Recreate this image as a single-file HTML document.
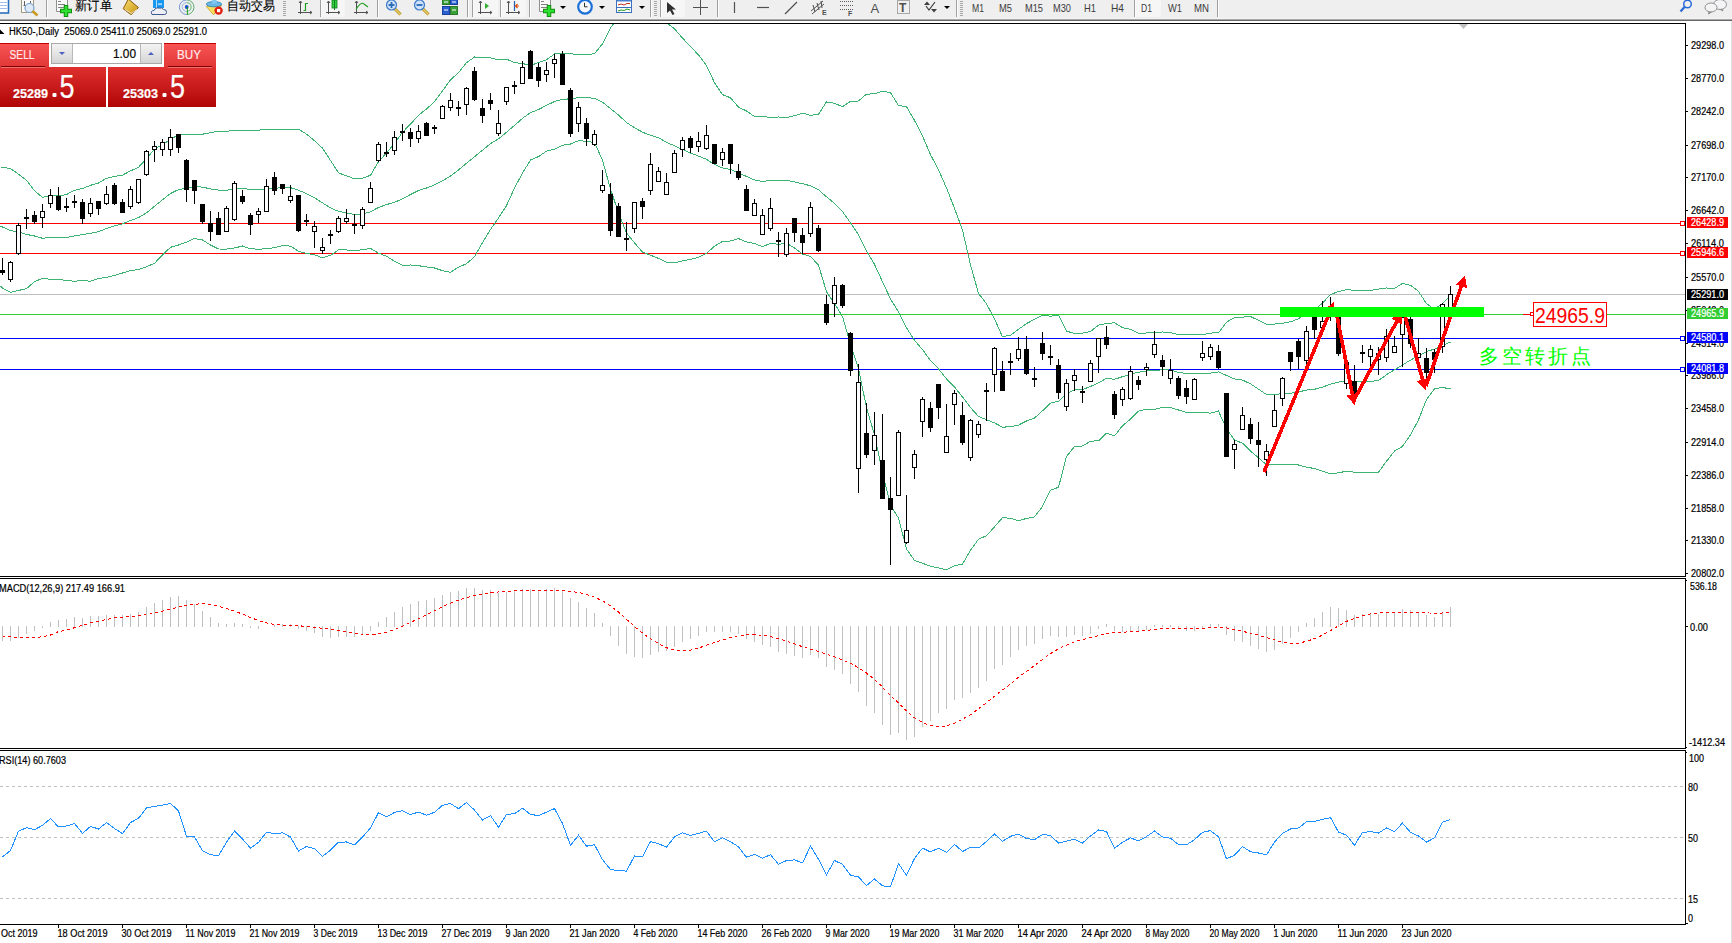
<!DOCTYPE html><html><head><meta charset="utf-8"><style>html,body{margin:0;padding:0;background:#fff;overflow:hidden}body{width:1732px;height:943px;position:relative;font-family:"Liberation Sans",sans-serif}</style></head><body>
<svg width="1732" height="943" viewBox="0 0 1732 943" style="position:absolute;left:0;top:0">
<rect x="0" y="0" width="1732" height="943" fill="#fff"/>
<rect x="1731" y="21" width="1" height="922" fill="#e0e0e0"/>
<g shape-rendering="crispEdges">
<rect x="0" y="23" width="1686" height="1" fill="#000"/>
<rect x="1685" y="23" width="1" height="554" fill="#000"/>
<rect x="0" y="576" width="1686" height="1" fill="#000"/>
<rect x="0" y="578" width="1686" height="1" fill="#000"/>
<rect x="1685" y="578" width="1" height="171" fill="#000"/>
<rect x="0" y="748" width="1686" height="1" fill="#000"/>
<rect x="0" y="750" width="1686" height="1" fill="#000"/>
<rect x="1685" y="750" width="1" height="175" fill="#000"/>
<rect x="0" y="924" width="1686" height="1" fill="#000"/>
</g>
<g shape-rendering="crispEdges">
<rect x="0" y="223" width="1685" height="1" fill="#ff0000"/>
<rect x="0" y="253" width="1685" height="1" fill="#ff0000"/>
<rect x="0" y="294" width="1685" height="1" fill="#c0c0c0"/>
<rect x="0" y="314" width="1685" height="1" fill="#32cd32"/>
<rect x="0" y="338" width="1685" height="1" fill="#0000ff"/>
<rect x="0" y="369" width="1685" height="1" fill="#0000ff"/>
<rect x="1680.5" y="221.5" width="4" height="4" fill="#fff" stroke="#ff0000" stroke-width="1"/>
<rect x="1680.5" y="251.5" width="4" height="4" fill="#fff" stroke="#ff0000" stroke-width="1"/>
<rect x="1680.5" y="336.5" width="4" height="4" fill="#fff" stroke="#0000ff" stroke-width="1"/>
<rect x="1680.5" y="367.5" width="4" height="4" fill="#fff" stroke="#0000ff" stroke-width="1"/>
</g>
<defs><clipPath id="cm"><rect x="0" y="24" width="1685" height="552"/></clipPath><clipPath id="cd"><rect x="0" y="579" width="1685" height="169"/></clipPath><clipPath id="cr"><rect x="0" y="751" width="1685" height="173"/></clipPath></defs>
<g clip-path="url(#cm)">
<polyline points="0.5,167.5 2.5,167.5 10.5,168.5 18.5,174.2 26.5,180.2 34.5,190.8 42.5,197.3 50.5,195.9 58.5,195.9 66.5,194.5 74.5,190.3 82.5,188.5 90.5,185.3 98.5,183.0 106.5,178.3 114.5,176.5 122.5,175.1 130.5,170.9 138.5,167.3 146.5,158.5 154.5,149.2 162.5,144.5 170.5,139.7 178.5,134.2 186.5,134.2 194.5,134.8 202.5,134.2 210.5,132.7 218.5,131.2 226.5,131.2 234.5,130.5 242.5,130.8 250.5,130.1 258.5,130.1 266.5,129.7 274.5,129.3 282.5,129.1 290.5,129.3 298.5,129.2 306.5,134.1 314.5,140.7 322.5,148.1 330.5,160.4 338.5,172.9 346.5,175.8 354.5,178.8 362.5,178.2 370.5,175.3 378.5,161.7 386.5,152.9 394.5,143.4 402.5,132.3 410.5,124.1 418.5,115.3 426.5,109.0 434.5,101.7 442.5,90.9 450.5,79.8 458.5,72.6 466.5,62.7 474.5,57.0 482.5,57.8 490.5,57.8 498.5,59.8 506.5,59.1 514.5,62.7 522.5,63.5 530.5,65.5 538.5,62.5 546.5,59.7 554.5,54.0 562.5,53.1 570.5,53.7 578.5,54.7 586.5,54.4 594.5,53.8 602.5,43.8 610.5,28.0 618.5,17.2 626.5,12.0 634.5,12.5 642.5,12.3 650.5,15.4 658.5,17.0 666.5,22.6 674.5,28.8 682.5,38.1 690.5,46.6 698.5,54.9 706.5,65.5 714.5,82.7 722.5,94.6 730.5,97.8 738.5,107.2 746.5,111.0 754.5,116.5 762.5,116.2 770.5,117.6 778.5,117.0 786.5,117.6 794.5,115.7 802.5,113.2 810.5,115.3 818.5,114.3 826.5,101.9 834.5,103.3 842.5,106.7 850.5,101.4 858.5,101.0 866.5,94.1 874.5,93.9 882.5,91.2 890.5,92.6 898.5,105.6 906.5,106.6 914.5,120.4 922.5,136.0 930.5,154.7 938.5,169.7 946.5,188.0 954.5,208.3 962.5,230.0 970.5,264.9 978.5,293.4 986.5,303.8 994.5,318.9 1002.5,336.8 1010.5,335.2 1018.5,329.3 1026.5,323.6 1034.5,319.2 1042.5,315.2 1050.5,316.2 1058.5,315.1 1066.5,331.2 1074.5,333.3 1082.5,333.1 1090.5,331.5 1098.5,325.1 1106.5,323.5 1114.5,322.8 1122.5,327.6 1130.5,329.3 1138.5,333.2 1146.5,333.0 1154.5,332.3 1162.5,332.0 1170.5,332.6 1178.5,334.7 1186.5,334.5 1194.5,334.5 1202.5,334.6 1210.5,333.1 1218.5,332.7 1226.5,322.1 1234.5,317.7 1242.5,317.1 1250.5,316.5 1258.5,320.4 1266.5,324.1 1274.5,324.1 1282.5,323.2 1290.5,321.8 1298.5,318.8 1306.5,312.9 1314.5,310.1 1322.5,303.0 1330.5,294.5 1338.5,291.5 1346.5,289.7 1354.5,290.3 1362.5,290.2 1370.5,290.4 1378.5,289.1 1386.5,288.0 1394.5,288.5 1402.5,283.3 1410.5,285.3 1418.5,291.3 1426.5,303.7 1434.5,309.3 1442.5,303.4 1450.5,295.2" fill="none" stroke="#3cb371" stroke-width="1" shape-rendering="crispEdges"/>
<polyline points="0.5,226.3 2.5,227.0 10.5,230.5 18.5,231.9 26.5,234.4 34.5,236.0 42.5,238.3 50.5,237.4 58.5,237.4 66.5,237.4 74.5,236.0 82.5,234.6 90.5,233.3 98.5,231.6 106.5,228.5 114.5,225.9 122.5,223.8 130.5,220.5 138.5,217.6 146.5,212.9 154.5,206.2 162.5,199.8 170.5,193.5 178.5,189.6 186.5,188.2 194.5,186.6 202.5,187.1 210.5,188.9 218.5,190.1 226.5,190.2 234.5,189.3 242.5,188.4 250.5,189.4 258.5,189.6 266.5,189.2 274.5,188.5 282.5,187.3 290.5,187.7 298.5,190.2 306.5,193.7 314.5,197.7 322.5,202.9 330.5,207.8 338.5,211.4 346.5,212.9 354.5,214.6 362.5,214.0 370.5,211.9 378.5,207.4 386.5,204.6 394.5,202.3 402.5,198.8 410.5,194.5 418.5,190.5 426.5,188.0 434.5,184.9 442.5,180.8 450.5,176.0 458.5,169.9 466.5,163.2 474.5,156.8 482.5,150.2 490.5,143.6 498.5,138.9 506.5,132.3 514.5,125.4 522.5,118.3 530.5,112.7 538.5,109.5 546.5,105.4 554.5,101.5 562.5,99.2 570.5,98.9 578.5,97.7 586.5,97.8 594.5,98.2 602.5,102.1 610.5,108.6 618.5,115.0 626.5,122.5 634.5,127.7 642.5,132.2 650.5,135.3 658.5,137.7 666.5,142.4 674.5,145.8 682.5,149.5 690.5,153.0 698.5,156.1 706.5,159.3 714.5,164.5 722.5,167.9 730.5,169.4 738.5,172.9 746.5,176.5 754.5,179.9 762.5,181.5 770.5,180.4 778.5,180.7 786.5,180.4 794.5,181.9 802.5,183.7 810.5,185.8 818.5,189.8 826.5,196.8 834.5,203.4 842.5,211.6 850.5,222.8 858.5,234.8 866.5,250.8 874.5,264.4 882.5,281.7 890.5,299.0 898.5,311.8 906.5,327.8 914.5,340.4 922.5,349.6 930.5,360.5 938.5,368.8 946.5,378.9 954.5,387.0 962.5,397.0 970.5,407.6 978.5,416.4 986.5,419.8 994.5,422.9 1002.5,427.2 1010.5,426.7 1018.5,425.1 1026.5,421.0 1034.5,418.1 1042.5,410.8 1050.5,403.2 1058.5,401.2 1066.5,393.9 1074.5,389.9 1082.5,389.6 1090.5,386.4 1098.5,382.9 1106.5,378.3 1114.5,379.3 1122.5,376.7 1130.5,374.3 1138.5,372.2 1146.5,371.0 1154.5,370.8 1162.5,369.6 1170.5,370.1 1178.5,372.3 1186.5,373.5 1194.5,373.6 1202.5,373.6 1210.5,373.1 1218.5,371.9 1226.5,375.5 1234.5,378.9 1242.5,380.1 1250.5,383.8 1258.5,389.1 1266.5,394.5 1274.5,394.3 1282.5,393.8 1290.5,393.2 1298.5,391.9 1306.5,390.1 1314.5,389.3 1322.5,387.1 1330.5,384.2 1338.5,382.1 1346.5,380.5 1354.5,381.2 1362.5,381.2 1370.5,381.3 1378.5,380.6 1386.5,374.7 1394.5,369.8 1402.5,364.9 1410.5,360.1 1418.5,355.6 1426.5,351.6 1434.5,349.1 1442.5,345.4 1450.5,342.1" fill="none" stroke="#3cb371" stroke-width="1" shape-rendering="crispEdges"/>
<polyline points="0.5,286.2 2.5,288.1 10.5,292.4 18.5,290.5 26.5,288.6 34.5,281.7 42.5,278.4 50.5,279.3 58.5,279.3 66.5,280.5 74.5,281.3 82.5,280.5 90.5,281.3 98.5,278.6 106.5,277.3 114.5,275.4 122.5,273.0 130.5,270.6 138.5,269.5 146.5,266.8 154.5,263.3 162.5,255.0 170.5,247.3 178.5,245.0 186.5,242.1 194.5,238.5 202.5,240.0 210.5,245.0 218.5,249.0 226.5,249.1 234.5,248.0 242.5,246.0 250.5,248.8 258.5,249.2 266.5,248.8 274.5,247.7 282.5,245.6 290.5,246.1 298.5,251.3 306.5,253.3 314.5,254.8 322.5,257.8 330.5,255.3 338.5,249.9 346.5,250.0 354.5,250.4 362.5,249.8 370.5,248.5 378.5,253.1 386.5,256.3 394.5,261.2 402.5,265.3 410.5,265.0 418.5,265.7 426.5,266.9 434.5,268.0 442.5,270.7 450.5,272.2 458.5,267.1 466.5,263.7 474.5,256.7 482.5,242.6 490.5,229.5 498.5,218.0 506.5,205.6 514.5,188.0 522.5,173.0 530.5,160.0 538.5,156.6 546.5,151.2 554.5,149.1 562.5,145.2 570.5,144.0 578.5,140.7 586.5,141.3 594.5,142.6 602.5,160.3 610.5,189.1 618.5,212.7 626.5,233.0 634.5,242.9 642.5,252.1 650.5,255.2 658.5,258.4 666.5,262.3 674.5,262.9 682.5,260.9 690.5,259.4 698.5,257.3 706.5,253.2 714.5,246.3 722.5,241.3 730.5,241.0 738.5,238.6 746.5,242.0 754.5,243.4 762.5,246.8 770.5,243.2 778.5,244.3 786.5,243.3 794.5,248.0 802.5,254.1 810.5,256.4 818.5,265.2 826.5,291.7 834.5,303.5 842.5,316.5 850.5,344.2 858.5,368.7 866.5,407.5 874.5,435.0 882.5,472.3 890.5,505.5 898.5,518.0 906.5,549.0 914.5,560.4 922.5,563.2 930.5,566.3 938.5,567.9 946.5,569.9 954.5,565.7 962.5,564.0 970.5,550.3 978.5,539.3 986.5,535.7 994.5,526.9 1002.5,517.6 1010.5,518.3 1018.5,520.9 1026.5,518.4 1034.5,517.0 1042.5,506.4 1050.5,490.2 1058.5,487.3 1066.5,456.5 1074.5,446.5 1082.5,446.0 1090.5,441.2 1098.5,440.8 1106.5,433.1 1114.5,435.9 1122.5,425.8 1130.5,419.2 1138.5,411.2 1146.5,409.1 1154.5,409.4 1162.5,407.3 1170.5,407.5 1178.5,410.0 1186.5,412.5 1194.5,412.6 1202.5,412.6 1210.5,413.1 1218.5,411.0 1226.5,428.9 1234.5,440.1 1242.5,443.1 1250.5,451.1 1258.5,457.7 1266.5,464.9 1274.5,464.6 1282.5,464.3 1290.5,464.6 1298.5,465.0 1306.5,467.2 1314.5,468.5 1322.5,471.2 1330.5,474.0 1338.5,472.8 1346.5,471.2 1354.5,472.2 1362.5,472.2 1370.5,472.2 1378.5,472.1 1386.5,461.3 1394.5,451.1 1402.5,446.4 1410.5,434.9 1418.5,419.9 1426.5,399.5 1434.5,388.9 1442.5,387.4 1450.5,389.0" fill="none" stroke="#3cb371" stroke-width="1" shape-rendering="crispEdges"/>
<g shape-rendering="crispEdges">
<rect x="2" y="258" width="1" height="17" fill="#000"/>
<rect x="0" y="270" width="5" height="3" fill="#000"/>
<rect x="10" y="261" width="1" height="21" fill="#000"/>
<rect x="8" y="262" width="5" height="18" fill="#000"/>
<rect x="9" y="263" width="3" height="16" fill="#fff"/>
<rect x="18" y="223" width="1" height="32" fill="#000"/>
<rect x="16" y="225" width="5" height="29" fill="#000"/>
<rect x="17" y="226" width="3" height="27" fill="#fff"/>
<rect x="26" y="209" width="1" height="20" fill="#000"/>
<rect x="24" y="217" width="5" height="2" fill="#000"/>
<rect x="34" y="211" width="1" height="13" fill="#000"/>
<rect x="32" y="215" width="5" height="7" fill="#000"/>
<rect x="42" y="204" width="1" height="24" fill="#000"/>
<rect x="40" y="211" width="5" height="7" fill="#000"/>
<rect x="41" y="212" width="3" height="5" fill="#fff"/>
<rect x="50" y="189" width="1" height="19" fill="#000"/>
<rect x="48" y="195" width="5" height="9" fill="#000"/>
<rect x="49" y="196" width="3" height="7" fill="#fff"/>
<rect x="58" y="187" width="1" height="24" fill="#000"/>
<rect x="56" y="196" width="5" height="14" fill="#000"/>
<rect x="66" y="198" width="1" height="14" fill="#000"/>
<rect x="64" y="206" width="5" height="2" fill="#000"/>
<rect x="74" y="195" width="1" height="13" fill="#000"/>
<rect x="72" y="201" width="5" height="2" fill="#000"/>
<rect x="82" y="199" width="1" height="25" fill="#000"/>
<rect x="80" y="202" width="5" height="17" fill="#000"/>
<rect x="90" y="198" width="1" height="19" fill="#000"/>
<rect x="88" y="203" width="5" height="11" fill="#000"/>
<rect x="89" y="204" width="3" height="9" fill="#fff"/>
<rect x="98" y="201" width="1" height="14" fill="#000"/>
<rect x="96" y="201" width="5" height="8" fill="#000"/>
<rect x="106" y="186" width="1" height="19" fill="#000"/>
<rect x="104" y="194" width="5" height="10" fill="#000"/>
<rect x="105" y="195" width="3" height="8" fill="#fff"/>
<rect x="114" y="183" width="1" height="22" fill="#000"/>
<rect x="112" y="185" width="5" height="19" fill="#000"/>
<rect x="122" y="199" width="1" height="14" fill="#000"/>
<rect x="120" y="202" width="5" height="11" fill="#000"/>
<rect x="130" y="186" width="1" height="23" fill="#000"/>
<rect x="128" y="189" width="5" height="18" fill="#000"/>
<rect x="129" y="190" width="3" height="16" fill="#fff"/>
<rect x="138" y="179" width="1" height="25" fill="#000"/>
<rect x="136" y="179" width="5" height="24" fill="#000"/>
<rect x="137" y="180" width="3" height="22" fill="#fff"/>
<rect x="146" y="150" width="1" height="26" fill="#000"/>
<rect x="144" y="151" width="5" height="24" fill="#000"/>
<rect x="145" y="152" width="3" height="22" fill="#fff"/>
<rect x="154" y="141" width="1" height="21" fill="#000"/>
<rect x="152" y="146" width="5" height="4" fill="#000"/>
<rect x="153" y="147" width="3" height="2" fill="#fff"/>
<rect x="162" y="139" width="1" height="17" fill="#000"/>
<rect x="160" y="142" width="5" height="8" fill="#000"/>
<rect x="161" y="143" width="3" height="6" fill="#fff"/>
<rect x="170" y="129" width="1" height="27" fill="#000"/>
<rect x="168" y="137" width="5" height="13" fill="#000"/>
<rect x="169" y="138" width="3" height="11" fill="#fff"/>
<rect x="178" y="134" width="1" height="19" fill="#000"/>
<rect x="176" y="134" width="5" height="14" fill="#000"/>
<rect x="186" y="159" width="1" height="43" fill="#000"/>
<rect x="184" y="160" width="5" height="30" fill="#000"/>
<rect x="194" y="180" width="1" height="24" fill="#000"/>
<rect x="192" y="180" width="5" height="11" fill="#000"/>
<rect x="202" y="204" width="1" height="20" fill="#000"/>
<rect x="200" y="204" width="5" height="18" fill="#000"/>
<rect x="210" y="211" width="1" height="30" fill="#000"/>
<rect x="208" y="223" width="5" height="9" fill="#000"/>
<rect x="218" y="212" width="1" height="23" fill="#000"/>
<rect x="216" y="218" width="5" height="17" fill="#000"/>
<rect x="226" y="206" width="1" height="26" fill="#000"/>
<rect x="224" y="208" width="5" height="24" fill="#000"/>
<rect x="225" y="209" width="3" height="22" fill="#fff"/>
<rect x="234" y="181" width="1" height="40" fill="#000"/>
<rect x="232" y="183" width="5" height="37" fill="#000"/>
<rect x="233" y="184" width="3" height="35" fill="#fff"/>
<rect x="242" y="190" width="1" height="14" fill="#000"/>
<rect x="240" y="196" width="5" height="6" fill="#000"/>
<rect x="250" y="213" width="1" height="22" fill="#000"/>
<rect x="248" y="215" width="5" height="10" fill="#000"/>
<rect x="258" y="208" width="1" height="15" fill="#000"/>
<rect x="256" y="211" width="5" height="4" fill="#000"/>
<rect x="257" y="212" width="3" height="2" fill="#fff"/>
<rect x="266" y="179" width="1" height="33" fill="#000"/>
<rect x="264" y="186" width="5" height="26" fill="#000"/>
<rect x="265" y="187" width="3" height="24" fill="#fff"/>
<rect x="274" y="172" width="1" height="23" fill="#000"/>
<rect x="272" y="177" width="5" height="14" fill="#000"/>
<rect x="282" y="184" width="1" height="10" fill="#000"/>
<rect x="280" y="184" width="5" height="5" fill="#000"/>
<rect x="290" y="185" width="1" height="18" fill="#000"/>
<rect x="288" y="196" width="5" height="5" fill="#000"/>
<rect x="289" y="197" width="3" height="3" fill="#fff"/>
<rect x="298" y="195" width="1" height="37" fill="#000"/>
<rect x="296" y="195" width="5" height="36" fill="#000"/>
<rect x="306" y="214" width="1" height="12" fill="#000"/>
<rect x="304" y="220" width="5" height="2" fill="#000"/>
<rect x="314" y="221" width="1" height="27" fill="#000"/>
<rect x="312" y="226" width="5" height="6" fill="#000"/>
<rect x="313" y="227" width="3" height="4" fill="#fff"/>
<rect x="322" y="238" width="1" height="16" fill="#000"/>
<rect x="320" y="247" width="5" height="4" fill="#000"/>
<rect x="321" y="248" width="3" height="2" fill="#fff"/>
<rect x="330" y="230" width="1" height="14" fill="#000"/>
<rect x="328" y="234" width="5" height="2" fill="#000"/>
<rect x="338" y="216" width="1" height="17" fill="#000"/>
<rect x="336" y="218" width="5" height="14" fill="#000"/>
<rect x="337" y="219" width="3" height="12" fill="#fff"/>
<rect x="346" y="209" width="1" height="15" fill="#000"/>
<rect x="344" y="218" width="5" height="4" fill="#000"/>
<rect x="345" y="219" width="3" height="2" fill="#fff"/>
<rect x="354" y="214" width="1" height="20" fill="#000"/>
<rect x="352" y="224" width="5" height="2" fill="#000"/>
<rect x="362" y="207" width="1" height="22" fill="#000"/>
<rect x="360" y="209" width="5" height="17" fill="#000"/>
<rect x="361" y="210" width="3" height="15" fill="#fff"/>
<rect x="370" y="182" width="1" height="21" fill="#000"/>
<rect x="368" y="188" width="5" height="15" fill="#000"/>
<rect x="369" y="189" width="3" height="13" fill="#fff"/>
<rect x="378" y="142" width="1" height="20" fill="#000"/>
<rect x="376" y="144" width="5" height="17" fill="#000"/>
<rect x="377" y="145" width="3" height="15" fill="#fff"/>
<rect x="386" y="142" width="1" height="15" fill="#000"/>
<rect x="384" y="152" width="5" height="2" fill="#000"/>
<rect x="394" y="131" width="1" height="24" fill="#000"/>
<rect x="392" y="137" width="5" height="14" fill="#000"/>
<rect x="393" y="138" width="3" height="12" fill="#fff"/>
<rect x="402" y="124" width="1" height="17" fill="#000"/>
<rect x="400" y="131" width="5" height="2" fill="#000"/>
<rect x="410" y="128" width="1" height="19" fill="#000"/>
<rect x="408" y="132" width="5" height="7" fill="#000"/>
<rect x="418" y="125" width="1" height="18" fill="#000"/>
<rect x="416" y="131" width="5" height="8" fill="#000"/>
<rect x="417" y="132" width="3" height="6" fill="#fff"/>
<rect x="426" y="122" width="1" height="14" fill="#000"/>
<rect x="424" y="123" width="5" height="13" fill="#000"/>
<rect x="434" y="125" width="1" height="9" fill="#000"/>
<rect x="432" y="127" width="5" height="2" fill="#000"/>
<rect x="442" y="105" width="1" height="14" fill="#000"/>
<rect x="440" y="106" width="5" height="13" fill="#000"/>
<rect x="441" y="107" width="3" height="11" fill="#fff"/>
<rect x="450" y="93" width="1" height="18" fill="#000"/>
<rect x="448" y="100" width="5" height="8" fill="#000"/>
<rect x="449" y="101" width="3" height="6" fill="#fff"/>
<rect x="458" y="101" width="1" height="15" fill="#000"/>
<rect x="456" y="107" width="5" height="2" fill="#000"/>
<rect x="466" y="87" width="1" height="28" fill="#000"/>
<rect x="464" y="88" width="5" height="17" fill="#000"/>
<rect x="465" y="89" width="3" height="15" fill="#fff"/>
<rect x="474" y="67" width="1" height="34" fill="#000"/>
<rect x="472" y="71" width="5" height="29" fill="#000"/>
<rect x="482" y="99" width="1" height="24" fill="#000"/>
<rect x="480" y="108" width="5" height="8" fill="#000"/>
<rect x="490" y="93" width="1" height="17" fill="#000"/>
<rect x="488" y="100" width="5" height="4" fill="#000"/>
<rect x="498" y="110" width="1" height="26" fill="#000"/>
<rect x="496" y="123" width="5" height="11" fill="#000"/>
<rect x="497" y="124" width="3" height="9" fill="#fff"/>
<rect x="506" y="87" width="1" height="18" fill="#000"/>
<rect x="504" y="87" width="5" height="15" fill="#000"/>
<rect x="505" y="88" width="3" height="13" fill="#fff"/>
<rect x="514" y="81" width="1" height="13" fill="#000"/>
<rect x="512" y="85" width="5" height="2" fill="#000"/>
<rect x="522" y="61" width="1" height="23" fill="#000"/>
<rect x="520" y="67" width="5" height="17" fill="#000"/>
<rect x="521" y="68" width="3" height="15" fill="#fff"/>
<rect x="530" y="50" width="1" height="29" fill="#000"/>
<rect x="528" y="51" width="5" height="28" fill="#000"/>
<rect x="538" y="63" width="1" height="24" fill="#000"/>
<rect x="536" y="67" width="5" height="14" fill="#000"/>
<rect x="546" y="62" width="1" height="20" fill="#000"/>
<rect x="544" y="70" width="5" height="5" fill="#000"/>
<rect x="545" y="71" width="3" height="3" fill="#fff"/>
<rect x="554" y="54" width="1" height="24" fill="#000"/>
<rect x="552" y="59" width="5" height="5" fill="#000"/>
<rect x="553" y="60" width="3" height="3" fill="#fff"/>
<rect x="562" y="51" width="1" height="34" fill="#000"/>
<rect x="560" y="54" width="5" height="31" fill="#000"/>
<rect x="570" y="88" width="1" height="49" fill="#000"/>
<rect x="568" y="90" width="5" height="44" fill="#000"/>
<rect x="578" y="102" width="1" height="30" fill="#000"/>
<rect x="576" y="107" width="5" height="17" fill="#000"/>
<rect x="577" y="108" width="3" height="15" fill="#fff"/>
<rect x="586" y="118" width="1" height="28" fill="#000"/>
<rect x="584" y="123" width="5" height="16" fill="#000"/>
<rect x="594" y="130" width="1" height="16" fill="#000"/>
<rect x="592" y="134" width="5" height="11" fill="#000"/>
<rect x="593" y="135" width="3" height="9" fill="#fff"/>
<rect x="602" y="170" width="1" height="23" fill="#000"/>
<rect x="600" y="185" width="5" height="6" fill="#000"/>
<rect x="601" y="186" width="3" height="4" fill="#fff"/>
<rect x="610" y="183" width="1" height="53" fill="#000"/>
<rect x="608" y="194" width="5" height="37" fill="#000"/>
<rect x="618" y="203" width="1" height="34" fill="#000"/>
<rect x="616" y="206" width="5" height="31" fill="#000"/>
<rect x="626" y="222" width="1" height="29" fill="#000"/>
<rect x="624" y="238" width="5" height="2" fill="#000"/>
<rect x="634" y="202" width="1" height="31" fill="#000"/>
<rect x="632" y="202" width="5" height="27" fill="#000"/>
<rect x="633" y="203" width="3" height="25" fill="#fff"/>
<rect x="642" y="198" width="1" height="21" fill="#000"/>
<rect x="640" y="201" width="5" height="6" fill="#000"/>
<rect x="650" y="153" width="1" height="42" fill="#000"/>
<rect x="648" y="164" width="5" height="27" fill="#000"/>
<rect x="649" y="165" width="3" height="25" fill="#fff"/>
<rect x="658" y="167" width="1" height="15" fill="#000"/>
<rect x="656" y="171" width="5" height="11" fill="#000"/>
<rect x="657" y="172" width="3" height="9" fill="#fff"/>
<rect x="666" y="173" width="1" height="22" fill="#000"/>
<rect x="664" y="182" width="5" height="13" fill="#000"/>
<rect x="665" y="183" width="3" height="11" fill="#fff"/>
<rect x="674" y="150" width="1" height="23" fill="#000"/>
<rect x="672" y="153" width="5" height="20" fill="#000"/>
<rect x="673" y="154" width="3" height="18" fill="#fff"/>
<rect x="682" y="137" width="1" height="20" fill="#000"/>
<rect x="680" y="140" width="5" height="10" fill="#000"/>
<rect x="681" y="141" width="3" height="8" fill="#fff"/>
<rect x="690" y="136" width="1" height="17" fill="#000"/>
<rect x="688" y="138" width="5" height="10" fill="#000"/>
<rect x="698" y="132" width="1" height="20" fill="#000"/>
<rect x="696" y="141" width="5" height="6" fill="#000"/>
<rect x="697" y="142" width="3" height="4" fill="#fff"/>
<rect x="706" y="125" width="1" height="25" fill="#000"/>
<rect x="704" y="135" width="5" height="14" fill="#000"/>
<rect x="705" y="136" width="3" height="12" fill="#fff"/>
<rect x="714" y="144" width="1" height="20" fill="#000"/>
<rect x="712" y="144" width="5" height="20" fill="#000"/>
<rect x="722" y="148" width="1" height="18" fill="#000"/>
<rect x="720" y="152" width="5" height="8" fill="#000"/>
<rect x="721" y="153" width="3" height="6" fill="#fff"/>
<rect x="730" y="144" width="1" height="30" fill="#000"/>
<rect x="728" y="144" width="5" height="20" fill="#000"/>
<rect x="738" y="164" width="1" height="16" fill="#000"/>
<rect x="736" y="171" width="5" height="7" fill="#000"/>
<rect x="746" y="185" width="1" height="26" fill="#000"/>
<rect x="744" y="189" width="5" height="22" fill="#000"/>
<rect x="754" y="199" width="1" height="17" fill="#000"/>
<rect x="752" y="203" width="5" height="13" fill="#000"/>
<rect x="753" y="204" width="3" height="11" fill="#fff"/>
<rect x="762" y="209" width="1" height="26" fill="#000"/>
<rect x="760" y="215" width="5" height="20" fill="#000"/>
<rect x="761" y="216" width="3" height="18" fill="#fff"/>
<rect x="770" y="198" width="1" height="33" fill="#000"/>
<rect x="768" y="208" width="5" height="21" fill="#000"/>
<rect x="769" y="209" width="3" height="19" fill="#fff"/>
<rect x="778" y="232" width="1" height="25" fill="#000"/>
<rect x="776" y="240" width="5" height="2" fill="#000"/>
<rect x="786" y="228" width="1" height="29" fill="#000"/>
<rect x="784" y="233" width="5" height="22" fill="#000"/>
<rect x="785" y="234" width="3" height="20" fill="#fff"/>
<rect x="794" y="218" width="1" height="24" fill="#000"/>
<rect x="792" y="218" width="5" height="15" fill="#000"/>
<rect x="802" y="228" width="1" height="26" fill="#000"/>
<rect x="800" y="235" width="5" height="8" fill="#000"/>
<rect x="810" y="202" width="1" height="35" fill="#000"/>
<rect x="808" y="207" width="5" height="27" fill="#000"/>
<rect x="809" y="208" width="3" height="25" fill="#fff"/>
<rect x="818" y="225" width="1" height="27" fill="#000"/>
<rect x="816" y="228" width="5" height="23" fill="#000"/>
<rect x="826" y="295" width="1" height="30" fill="#000"/>
<rect x="824" y="304" width="5" height="19" fill="#000"/>
<rect x="834" y="277" width="1" height="40" fill="#000"/>
<rect x="832" y="285" width="5" height="19" fill="#000"/>
<rect x="833" y="286" width="3" height="17" fill="#fff"/>
<rect x="842" y="284" width="1" height="24" fill="#000"/>
<rect x="840" y="285" width="5" height="21" fill="#000"/>
<rect x="850" y="332" width="1" height="44" fill="#000"/>
<rect x="848" y="333" width="5" height="38" fill="#000"/>
<rect x="858" y="364" width="1" height="129" fill="#000"/>
<rect x="856" y="382" width="5" height="87" fill="#000"/>
<rect x="857" y="383" width="3" height="85" fill="#fff"/>
<rect x="866" y="403" width="1" height="55" fill="#000"/>
<rect x="864" y="433" width="5" height="22" fill="#000"/>
<rect x="874" y="412" width="1" height="53" fill="#000"/>
<rect x="872" y="435" width="5" height="16" fill="#000"/>
<rect x="873" y="436" width="3" height="14" fill="#fff"/>
<rect x="882" y="414" width="1" height="85" fill="#000"/>
<rect x="880" y="460" width="5" height="39" fill="#000"/>
<rect x="890" y="477" width="1" height="88" fill="#000"/>
<rect x="888" y="498" width="5" height="12" fill="#000"/>
<rect x="898" y="430" width="1" height="66" fill="#000"/>
<rect x="896" y="432" width="5" height="64" fill="#000"/>
<rect x="897" y="433" width="3" height="62" fill="#fff"/>
<rect x="906" y="495" width="1" height="49" fill="#000"/>
<rect x="904" y="530" width="5" height="13" fill="#000"/>
<rect x="905" y="531" width="3" height="11" fill="#fff"/>
<rect x="914" y="450" width="1" height="29" fill="#000"/>
<rect x="912" y="454" width="5" height="14" fill="#000"/>
<rect x="913" y="455" width="3" height="12" fill="#fff"/>
<rect x="922" y="397" width="1" height="40" fill="#000"/>
<rect x="920" y="399" width="5" height="23" fill="#000"/>
<rect x="921" y="400" width="3" height="21" fill="#fff"/>
<rect x="930" y="402" width="1" height="30" fill="#000"/>
<rect x="928" y="408" width="5" height="20" fill="#000"/>
<rect x="938" y="384" width="1" height="35" fill="#000"/>
<rect x="936" y="384" width="5" height="24" fill="#000"/>
<rect x="946" y="404" width="1" height="49" fill="#000"/>
<rect x="944" y="436" width="5" height="17" fill="#000"/>
<rect x="945" y="437" width="3" height="15" fill="#fff"/>
<rect x="954" y="390" width="1" height="35" fill="#000"/>
<rect x="952" y="393" width="5" height="12" fill="#000"/>
<rect x="953" y="394" width="3" height="10" fill="#fff"/>
<rect x="962" y="402" width="1" height="43" fill="#000"/>
<rect x="960" y="415" width="5" height="28" fill="#000"/>
<rect x="970" y="419" width="1" height="42" fill="#000"/>
<rect x="968" y="420" width="5" height="38" fill="#000"/>
<rect x="969" y="421" width="3" height="36" fill="#fff"/>
<rect x="978" y="421" width="1" height="17" fill="#000"/>
<rect x="976" y="424" width="5" height="11" fill="#000"/>
<rect x="977" y="425" width="3" height="9" fill="#fff"/>
<rect x="986" y="383" width="1" height="38" fill="#000"/>
<rect x="984" y="390" width="5" height="2" fill="#000"/>
<rect x="994" y="347" width="1" height="45" fill="#000"/>
<rect x="992" y="348" width="5" height="27" fill="#000"/>
<rect x="993" y="349" width="3" height="25" fill="#fff"/>
<rect x="1002" y="361" width="1" height="30" fill="#000"/>
<rect x="1000" y="371" width="5" height="20" fill="#000"/>
<rect x="1010" y="353" width="1" height="22" fill="#000"/>
<rect x="1008" y="361" width="5" height="2" fill="#000"/>
<rect x="1018" y="337" width="1" height="24" fill="#000"/>
<rect x="1016" y="349" width="5" height="10" fill="#000"/>
<rect x="1017" y="350" width="3" height="8" fill="#fff"/>
<rect x="1026" y="336" width="1" height="39" fill="#000"/>
<rect x="1024" y="349" width="5" height="25" fill="#000"/>
<rect x="1034" y="367" width="1" height="20" fill="#000"/>
<rect x="1032" y="378" width="5" height="2" fill="#000"/>
<rect x="1042" y="332" width="1" height="28" fill="#000"/>
<rect x="1040" y="343" width="5" height="11" fill="#000"/>
<rect x="1050" y="345" width="1" height="20" fill="#000"/>
<rect x="1048" y="356" width="5" height="2" fill="#000"/>
<rect x="1058" y="359" width="1" height="40" fill="#000"/>
<rect x="1056" y="365" width="5" height="28" fill="#000"/>
<rect x="1066" y="379" width="1" height="32" fill="#000"/>
<rect x="1064" y="383" width="5" height="24" fill="#000"/>
<rect x="1065" y="384" width="3" height="22" fill="#fff"/>
<rect x="1074" y="369" width="1" height="22" fill="#000"/>
<rect x="1072" y="375" width="5" height="6" fill="#000"/>
<rect x="1073" y="376" width="3" height="4" fill="#fff"/>
<rect x="1082" y="386" width="1" height="17" fill="#000"/>
<rect x="1080" y="391" width="5" height="2" fill="#000"/>
<rect x="1090" y="360" width="1" height="22" fill="#000"/>
<rect x="1088" y="363" width="5" height="19" fill="#000"/>
<rect x="1089" y="364" width="3" height="17" fill="#fff"/>
<rect x="1098" y="338" width="1" height="35" fill="#000"/>
<rect x="1096" y="338" width="5" height="19" fill="#000"/>
<rect x="1097" y="339" width="3" height="17" fill="#fff"/>
<rect x="1106" y="326" width="1" height="23" fill="#000"/>
<rect x="1104" y="337" width="5" height="8" fill="#000"/>
<rect x="1114" y="391" width="1" height="28" fill="#000"/>
<rect x="1112" y="394" width="5" height="21" fill="#000"/>
<rect x="1122" y="387" width="1" height="19" fill="#000"/>
<rect x="1120" y="389" width="5" height="11" fill="#000"/>
<rect x="1121" y="390" width="3" height="9" fill="#fff"/>
<rect x="1130" y="366" width="1" height="34" fill="#000"/>
<rect x="1128" y="371" width="5" height="28" fill="#000"/>
<rect x="1129" y="372" width="3" height="26" fill="#fff"/>
<rect x="1138" y="376" width="1" height="14" fill="#000"/>
<rect x="1136" y="380" width="5" height="5" fill="#000"/>
<rect x="1146" y="363" width="1" height="13" fill="#000"/>
<rect x="1144" y="367" width="5" height="3" fill="#000"/>
<rect x="1145" y="368" width="3" height="1" fill="#fff"/>
<rect x="1154" y="331" width="1" height="27" fill="#000"/>
<rect x="1152" y="344" width="5" height="11" fill="#000"/>
<rect x="1153" y="345" width="3" height="9" fill="#fff"/>
<rect x="1162" y="355" width="1" height="21" fill="#000"/>
<rect x="1160" y="360" width="5" height="7" fill="#000"/>
<rect x="1170" y="359" width="1" height="25" fill="#000"/>
<rect x="1168" y="370" width="5" height="9" fill="#000"/>
<rect x="1169" y="371" width="3" height="7" fill="#fff"/>
<rect x="1178" y="376" width="1" height="23" fill="#000"/>
<rect x="1176" y="378" width="5" height="18" fill="#000"/>
<rect x="1186" y="380" width="1" height="24" fill="#000"/>
<rect x="1184" y="388" width="5" height="9" fill="#000"/>
<rect x="1194" y="378" width="1" height="22" fill="#000"/>
<rect x="1192" y="379" width="5" height="21" fill="#000"/>
<rect x="1193" y="380" width="3" height="19" fill="#fff"/>
<rect x="1202" y="341" width="1" height="20" fill="#000"/>
<rect x="1200" y="353" width="5" height="5" fill="#000"/>
<rect x="1201" y="354" width="3" height="3" fill="#fff"/>
<rect x="1210" y="344" width="1" height="16" fill="#000"/>
<rect x="1208" y="347" width="5" height="10" fill="#000"/>
<rect x="1209" y="348" width="3" height="8" fill="#fff"/>
<rect x="1218" y="345" width="1" height="24" fill="#000"/>
<rect x="1216" y="351" width="5" height="17" fill="#000"/>
<rect x="1226" y="393" width="1" height="64" fill="#000"/>
<rect x="1224" y="393" width="5" height="64" fill="#000"/>
<rect x="1234" y="440" width="1" height="29" fill="#000"/>
<rect x="1232" y="444" width="5" height="6" fill="#000"/>
<rect x="1233" y="445" width="3" height="4" fill="#fff"/>
<rect x="1242" y="407" width="1" height="23" fill="#000"/>
<rect x="1240" y="415" width="5" height="15" fill="#000"/>
<rect x="1241" y="416" width="3" height="13" fill="#fff"/>
<rect x="1250" y="418" width="1" height="26" fill="#000"/>
<rect x="1248" y="424" width="5" height="15" fill="#000"/>
<rect x="1258" y="422" width="1" height="45" fill="#000"/>
<rect x="1256" y="440" width="5" height="5" fill="#000"/>
<rect x="1266" y="444" width="1" height="32" fill="#000"/>
<rect x="1264" y="451" width="5" height="9" fill="#000"/>
<rect x="1265" y="452" width="3" height="7" fill="#fff"/>
<rect x="1274" y="395" width="1" height="32" fill="#000"/>
<rect x="1272" y="410" width="5" height="17" fill="#000"/>
<rect x="1273" y="411" width="3" height="15" fill="#fff"/>
<rect x="1282" y="377" width="1" height="29" fill="#000"/>
<rect x="1280" y="378" width="5" height="21" fill="#000"/>
<rect x="1281" y="379" width="3" height="19" fill="#fff"/>
<rect x="1290" y="352" width="1" height="19" fill="#000"/>
<rect x="1288" y="352" width="5" height="10" fill="#000"/>
<rect x="1298" y="339" width="1" height="30" fill="#000"/>
<rect x="1296" y="341" width="5" height="16" fill="#000"/>
<rect x="1306" y="326" width="1" height="39" fill="#000"/>
<rect x="1304" y="331" width="5" height="30" fill="#000"/>
<rect x="1305" y="332" width="3" height="28" fill="#fff"/>
<rect x="1314" y="317" width="1" height="22" fill="#000"/>
<rect x="1312" y="317" width="5" height="13" fill="#000"/>
<rect x="1322" y="301" width="1" height="27" fill="#000"/>
<rect x="1320" y="321" width="5" height="7" fill="#000"/>
<rect x="1321" y="322" width="3" height="5" fill="#fff"/>
<rect x="1330" y="297" width="1" height="24" fill="#000"/>
<rect x="1328" y="308" width="5" height="7" fill="#000"/>
<rect x="1338" y="317" width="1" height="39" fill="#000"/>
<rect x="1336" y="317" width="5" height="37" fill="#000"/>
<rect x="1346" y="361" width="1" height="28" fill="#000"/>
<rect x="1344" y="362" width="5" height="22" fill="#000"/>
<rect x="1345" y="363" width="3" height="20" fill="#fff"/>
<rect x="1354" y="365" width="1" height="30" fill="#000"/>
<rect x="1352" y="381" width="5" height="14" fill="#000"/>
<rect x="1362" y="345" width="1" height="18" fill="#000"/>
<rect x="1360" y="352" width="5" height="2" fill="#000"/>
<rect x="1370" y="345" width="1" height="26" fill="#000"/>
<rect x="1368" y="349" width="5" height="8" fill="#000"/>
<rect x="1369" y="350" width="3" height="6" fill="#fff"/>
<rect x="1378" y="347" width="1" height="28" fill="#000"/>
<rect x="1376" y="353" width="5" height="7" fill="#000"/>
<rect x="1377" y="354" width="3" height="5" fill="#fff"/>
<rect x="1386" y="329" width="1" height="33" fill="#000"/>
<rect x="1384" y="336" width="5" height="22" fill="#000"/>
<rect x="1385" y="337" width="3" height="20" fill="#fff"/>
<rect x="1394" y="336" width="1" height="17" fill="#000"/>
<rect x="1392" y="346" width="5" height="7" fill="#000"/>
<rect x="1393" y="347" width="3" height="5" fill="#fff"/>
<rect x="1402" y="317" width="1" height="50" fill="#000"/>
<rect x="1400" y="317" width="5" height="18" fill="#000"/>
<rect x="1401" y="318" width="3" height="16" fill="#fff"/>
<rect x="1410" y="317" width="1" height="31" fill="#000"/>
<rect x="1408" y="319" width="5" height="25" fill="#000"/>
<rect x="1418" y="338" width="1" height="20" fill="#000"/>
<rect x="1416" y="353" width="5" height="5" fill="#000"/>
<rect x="1417" y="354" width="3" height="3" fill="#fff"/>
<rect x="1426" y="348" width="1" height="30" fill="#000"/>
<rect x="1424" y="358" width="5" height="15" fill="#000"/>
<rect x="1434" y="349" width="1" height="24" fill="#000"/>
<rect x="1432" y="352" width="5" height="8" fill="#000"/>
<rect x="1442" y="303" width="1" height="50" fill="#000"/>
<rect x="1440" y="304" width="5" height="43" fill="#000"/>
<rect x="1441" y="305" width="3" height="41" fill="#fff"/>
<rect x="1450" y="286" width="1" height="23" fill="#000"/>
<rect x="1448" y="294" width="5" height="15" fill="#000"/>
<rect x="1449" y="295" width="3" height="13" fill="#fff"/>
</g>
</g>
<g clip-path="url(#cd)">
<g shape-rendering="crispEdges">
<rect x="2" y="626" width="1" height="15" fill="#c0c0c0"/>
<rect x="10" y="626" width="1" height="15" fill="#c0c0c0"/>
<rect x="18" y="626" width="1" height="12" fill="#c0c0c0"/>
<rect x="26" y="626" width="1" height="8" fill="#c0c0c0"/>
<rect x="34" y="626" width="1" height="5" fill="#c0c0c0"/>
<rect x="42" y="626" width="1" height="2" fill="#c0c0c0"/>
<rect x="50" y="622" width="1" height="5" fill="#c0c0c0"/>
<rect x="58" y="620" width="1" height="7" fill="#c0c0c0"/>
<rect x="66" y="619" width="1" height="8" fill="#c0c0c0"/>
<rect x="74" y="617" width="1" height="10" fill="#c0c0c0"/>
<rect x="82" y="618" width="1" height="9" fill="#c0c0c0"/>
<rect x="90" y="616" width="1" height="11" fill="#c0c0c0"/>
<rect x="98" y="616" width="1" height="11" fill="#c0c0c0"/>
<rect x="106" y="615" width="1" height="12" fill="#c0c0c0"/>
<rect x="114" y="615" width="1" height="12" fill="#c0c0c0"/>
<rect x="122" y="615" width="1" height="12" fill="#c0c0c0"/>
<rect x="130" y="614" width="1" height="13" fill="#c0c0c0"/>
<rect x="138" y="612" width="1" height="15" fill="#c0c0c0"/>
<rect x="146" y="607" width="1" height="20" fill="#c0c0c0"/>
<rect x="154" y="603" width="1" height="24" fill="#c0c0c0"/>
<rect x="162" y="600" width="1" height="27" fill="#c0c0c0"/>
<rect x="170" y="597" width="1" height="30" fill="#c0c0c0"/>
<rect x="178" y="596" width="1" height="31" fill="#c0c0c0"/>
<rect x="186" y="600" width="1" height="27" fill="#c0c0c0"/>
<rect x="194" y="604" width="1" height="23" fill="#c0c0c0"/>
<rect x="202" y="611" width="1" height="16" fill="#c0c0c0"/>
<rect x="210" y="617" width="1" height="10" fill="#c0c0c0"/>
<rect x="218" y="623" width="1" height="4" fill="#c0c0c0"/>
<rect x="226" y="624" width="1" height="3" fill="#c0c0c0"/>
<rect x="234" y="623" width="1" height="4" fill="#c0c0c0"/>
<rect x="242" y="624" width="1" height="3" fill="#c0c0c0"/>
<rect x="250" y="626" width="1" height="2" fill="#c0c0c0"/>
<rect x="258" y="626" width="1" height="3" fill="#c0c0c0"/>
<rect x="274" y="625" width="1" height="2" fill="#c0c0c0"/>
<rect x="282" y="624" width="1" height="3" fill="#c0c0c0"/>
<rect x="290" y="624" width="1" height="3" fill="#c0c0c0"/>
<rect x="298" y="626" width="1" height="3" fill="#c0c0c0"/>
<rect x="306" y="626" width="1" height="5" fill="#c0c0c0"/>
<rect x="314" y="626" width="1" height="7" fill="#c0c0c0"/>
<rect x="322" y="626" width="1" height="11" fill="#c0c0c0"/>
<rect x="330" y="626" width="1" height="12" fill="#c0c0c0"/>
<rect x="338" y="626" width="1" height="11" fill="#c0c0c0"/>
<rect x="346" y="626" width="1" height="11" fill="#c0c0c0"/>
<rect x="354" y="626" width="1" height="11" fill="#c0c0c0"/>
<rect x="362" y="626" width="1" height="9" fill="#c0c0c0"/>
<rect x="370" y="626" width="1" height="5" fill="#c0c0c0"/>
<rect x="378" y="622" width="1" height="5" fill="#c0c0c0"/>
<rect x="386" y="617" width="1" height="10" fill="#c0c0c0"/>
<rect x="394" y="612" width="1" height="15" fill="#c0c0c0"/>
<rect x="402" y="607" width="1" height="20" fill="#c0c0c0"/>
<rect x="410" y="604" width="1" height="23" fill="#c0c0c0"/>
<rect x="418" y="601" width="1" height="26" fill="#c0c0c0"/>
<rect x="426" y="600" width="1" height="27" fill="#c0c0c0"/>
<rect x="434" y="598" width="1" height="29" fill="#c0c0c0"/>
<rect x="442" y="595" width="1" height="32" fill="#c0c0c0"/>
<rect x="450" y="592" width="1" height="35" fill="#c0c0c0"/>
<rect x="458" y="591" width="1" height="36" fill="#c0c0c0"/>
<rect x="466" y="588" width="1" height="39" fill="#c0c0c0"/>
<rect x="474" y="588" width="1" height="39" fill="#c0c0c0"/>
<rect x="482" y="590" width="1" height="37" fill="#c0c0c0"/>
<rect x="490" y="590" width="1" height="37" fill="#c0c0c0"/>
<rect x="498" y="593" width="1" height="34" fill="#c0c0c0"/>
<rect x="506" y="592" width="1" height="35" fill="#c0c0c0"/>
<rect x="514" y="591" width="1" height="36" fill="#c0c0c0"/>
<rect x="522" y="589" width="1" height="38" fill="#c0c0c0"/>
<rect x="530" y="589" width="1" height="38" fill="#c0c0c0"/>
<rect x="538" y="590" width="1" height="37" fill="#c0c0c0"/>
<rect x="546" y="589" width="1" height="38" fill="#c0c0c0"/>
<rect x="554" y="588" width="1" height="39" fill="#c0c0c0"/>
<rect x="562" y="591" width="1" height="36" fill="#c0c0c0"/>
<rect x="570" y="598" width="1" height="29" fill="#c0c0c0"/>
<rect x="578" y="602" width="1" height="25" fill="#c0c0c0"/>
<rect x="586" y="608" width="1" height="19" fill="#c0c0c0"/>
<rect x="594" y="613" width="1" height="14" fill="#c0c0c0"/>
<rect x="602" y="623" width="1" height="4" fill="#c0c0c0"/>
<rect x="610" y="626" width="1" height="10" fill="#c0c0c0"/>
<rect x="618" y="626" width="1" height="20" fill="#c0c0c0"/>
<rect x="626" y="626" width="1" height="28" fill="#c0c0c0"/>
<rect x="634" y="626" width="1" height="31" fill="#c0c0c0"/>
<rect x="642" y="626" width="1" height="32" fill="#c0c0c0"/>
<rect x="650" y="626" width="1" height="29" fill="#c0c0c0"/>
<rect x="658" y="626" width="1" height="26" fill="#c0c0c0"/>
<rect x="666" y="626" width="1" height="25" fill="#c0c0c0"/>
<rect x="674" y="626" width="1" height="21" fill="#c0c0c0"/>
<rect x="682" y="626" width="1" height="16" fill="#c0c0c0"/>
<rect x="690" y="626" width="1" height="13" fill="#c0c0c0"/>
<rect x="698" y="626" width="1" height="10" fill="#c0c0c0"/>
<rect x="706" y="626" width="1" height="6" fill="#c0c0c0"/>
<rect x="714" y="626" width="1" height="6" fill="#c0c0c0"/>
<rect x="722" y="626" width="1" height="6" fill="#c0c0c0"/>
<rect x="730" y="626" width="1" height="6" fill="#c0c0c0"/>
<rect x="738" y="626" width="1" height="8" fill="#c0c0c0"/>
<rect x="746" y="626" width="1" height="13" fill="#c0c0c0"/>
<rect x="754" y="626" width="1" height="16" fill="#c0c0c0"/>
<rect x="762" y="626" width="1" height="19" fill="#c0c0c0"/>
<rect x="770" y="626" width="1" height="21" fill="#c0c0c0"/>
<rect x="778" y="626" width="1" height="26" fill="#c0c0c0"/>
<rect x="786" y="626" width="1" height="28" fill="#c0c0c0"/>
<rect x="794" y="626" width="1" height="30" fill="#c0c0c0"/>
<rect x="802" y="626" width="1" height="32" fill="#c0c0c0"/>
<rect x="810" y="626" width="1" height="29" fill="#c0c0c0"/>
<rect x="818" y="626" width="1" height="32" fill="#c0c0c0"/>
<rect x="826" y="626" width="1" height="41" fill="#c0c0c0"/>
<rect x="834" y="626" width="1" height="44" fill="#c0c0c0"/>
<rect x="842" y="626" width="1" height="48" fill="#c0c0c0"/>
<rect x="850" y="626" width="1" height="58" fill="#c0c0c0"/>
<rect x="858" y="626" width="1" height="66" fill="#c0c0c0"/>
<rect x="866" y="626" width="1" height="80" fill="#c0c0c0"/>
<rect x="874" y="626" width="1" height="87" fill="#c0c0c0"/>
<rect x="882" y="626" width="1" height="99" fill="#c0c0c0"/>
<rect x="890" y="626" width="1" height="109" fill="#c0c0c0"/>
<rect x="898" y="626" width="1" height="107" fill="#c0c0c0"/>
<rect x="906" y="626" width="1" height="114" fill="#c0c0c0"/>
<rect x="914" y="626" width="1" height="111" fill="#c0c0c0"/>
<rect x="922" y="626" width="1" height="101" fill="#c0c0c0"/>
<rect x="930" y="626" width="1" height="95" fill="#c0c0c0"/>
<rect x="938" y="626" width="1" height="87" fill="#c0c0c0"/>
<rect x="946" y="626" width="1" height="83" fill="#c0c0c0"/>
<rect x="954" y="626" width="1" height="74" fill="#c0c0c0"/>
<rect x="962" y="626" width="1" height="72" fill="#c0c0c0"/>
<rect x="970" y="626" width="1" height="67" fill="#c0c0c0"/>
<rect x="978" y="626" width="1" height="62" fill="#c0c0c0"/>
<rect x="986" y="626" width="1" height="55" fill="#c0c0c0"/>
<rect x="994" y="626" width="1" height="43" fill="#c0c0c0"/>
<rect x="1002" y="626" width="1" height="39" fill="#c0c0c0"/>
<rect x="1010" y="626" width="1" height="31" fill="#c0c0c0"/>
<rect x="1018" y="626" width="1" height="24" fill="#c0c0c0"/>
<rect x="1026" y="626" width="1" height="20" fill="#c0c0c0"/>
<rect x="1034" y="626" width="1" height="18" fill="#c0c0c0"/>
<rect x="1042" y="626" width="1" height="13" fill="#c0c0c0"/>
<rect x="1050" y="626" width="1" height="10" fill="#c0c0c0"/>
<rect x="1058" y="626" width="1" height="11" fill="#c0c0c0"/>
<rect x="1066" y="626" width="1" height="11" fill="#c0c0c0"/>
<rect x="1074" y="626" width="1" height="9" fill="#c0c0c0"/>
<rect x="1082" y="626" width="1" height="10" fill="#c0c0c0"/>
<rect x="1090" y="626" width="1" height="8" fill="#c0c0c0"/>
<rect x="1098" y="626" width="1" height="3" fill="#c0c0c0"/>
<rect x="1106" y="624" width="1" height="3" fill="#c0c0c0"/>
<rect x="1114" y="626" width="1" height="5" fill="#c0c0c0"/>
<rect x="1122" y="626" width="1" height="6" fill="#c0c0c0"/>
<rect x="1130" y="626" width="1" height="5" fill="#c0c0c0"/>
<rect x="1138" y="626" width="1" height="6" fill="#c0c0c0"/>
<rect x="1146" y="626" width="1" height="4" fill="#c0c0c0"/>
<rect x="1154" y="625" width="1" height="2" fill="#c0c0c0"/>
<rect x="1162" y="625" width="1" height="2" fill="#c0c0c0"/>
<rect x="1170" y="625" width="1" height="2" fill="#c0c0c0"/>
<rect x="1178" y="626" width="1" height="3" fill="#c0c0c0"/>
<rect x="1186" y="626" width="1" height="5" fill="#c0c0c0"/>
<rect x="1194" y="626" width="1" height="5" fill="#c0c0c0"/>
<rect x="1202" y="626" width="1" height="2" fill="#c0c0c0"/>
<rect x="1210" y="624" width="1" height="3" fill="#c0c0c0"/>
<rect x="1218" y="624" width="1" height="3" fill="#c0c0c0"/>
<rect x="1226" y="626" width="1" height="9" fill="#c0c0c0"/>
<rect x="1234" y="626" width="1" height="15" fill="#c0c0c0"/>
<rect x="1242" y="626" width="1" height="16" fill="#c0c0c0"/>
<rect x="1250" y="626" width="1" height="20" fill="#c0c0c0"/>
<rect x="1258" y="626" width="1" height="23" fill="#c0c0c0"/>
<rect x="1266" y="626" width="1" height="26" fill="#c0c0c0"/>
<rect x="1274" y="626" width="1" height="24" fill="#c0c0c0"/>
<rect x="1282" y="626" width="1" height="18" fill="#c0c0c0"/>
<rect x="1290" y="626" width="1" height="12" fill="#c0c0c0"/>
<rect x="1298" y="626" width="1" height="6" fill="#c0c0c0"/>
<rect x="1306" y="623" width="1" height="4" fill="#c0c0c0"/>
<rect x="1314" y="618" width="1" height="9" fill="#c0c0c0"/>
<rect x="1322" y="612" width="1" height="15" fill="#c0c0c0"/>
<rect x="1330" y="607" width="1" height="20" fill="#c0c0c0"/>
<rect x="1338" y="608" width="1" height="19" fill="#c0c0c0"/>
<rect x="1346" y="610" width="1" height="17" fill="#c0c0c0"/>
<rect x="1354" y="615" width="1" height="12" fill="#c0c0c0"/>
<rect x="1362" y="614" width="1" height="13" fill="#c0c0c0"/>
<rect x="1370" y="614" width="1" height="13" fill="#c0c0c0"/>
<rect x="1378" y="614" width="1" height="13" fill="#c0c0c0"/>
<rect x="1386" y="612" width="1" height="15" fill="#c0c0c0"/>
<rect x="1394" y="612" width="1" height="15" fill="#c0c0c0"/>
<rect x="1402" y="609" width="1" height="18" fill="#c0c0c0"/>
<rect x="1410" y="610" width="1" height="17" fill="#c0c0c0"/>
<rect x="1418" y="612" width="1" height="15" fill="#c0c0c0"/>
<rect x="1426" y="615" width="1" height="12" fill="#c0c0c0"/>
<rect x="1434" y="617" width="1" height="10" fill="#c0c0c0"/>
<rect x="1442" y="612" width="1" height="15" fill="#c0c0c0"/>
<rect x="1450" y="607" width="1" height="20" fill="#c0c0c0"/>
</g>
<polyline points="2.5,635.9 10.5,636.9 18.5,637.9 26.5,637.9 34.5,637.6 42.5,636.8 50.5,635.0 58.5,631.6 66.5,630.3 74.5,627.7 82.5,625.2 90.5,622.9 98.5,621.1 106.5,619.4 114.5,618.0 122.5,617.3 130.5,616.6 138.5,615.8 146.5,614.7 154.5,613.0 162.5,611.2 170.5,609.1 178.5,607.0 186.5,605.4 194.5,604.2 202.5,603.8 210.5,604.5 218.5,606.2 226.5,608.6 234.5,611.1 242.5,614.1 250.5,617.5 258.5,620.5 266.5,622.9 274.5,624.5 282.5,625.2 290.5,625.3 298.5,625.7 306.5,626.5 314.5,627.4 322.5,628.3 330.5,629.4 338.5,630.6 346.5,631.8 354.5,633.1 362.5,634.3 370.5,634.5 378.5,633.7 386.5,632.1 394.5,629.5 402.5,626.1 410.5,622.5 418.5,618.6 426.5,614.6 434.5,610.6 442.5,606.6 450.5,603.2 458.5,600.2 466.5,597.6 474.5,595.5 482.5,593.9 490.5,592.7 498.5,592.0 506.5,591.3 514.5,591.0 522.5,590.7 530.5,590.5 538.5,590.7 546.5,590.9 554.5,590.7 562.5,590.8 570.5,591.4 578.5,592.5 586.5,594.4 594.5,597.1 602.5,600.8 610.5,605.9 618.5,612.1 626.5,619.3 634.5,626.5 642.5,633.1 650.5,638.8 658.5,643.6 666.5,647.7 674.5,650.3 682.5,651.0 690.5,650.1 698.5,648.0 706.5,645.3 714.5,642.5 722.5,639.9 730.5,637.6 738.5,635.7 746.5,634.7 754.5,634.6 762.5,635.3 770.5,636.6 778.5,638.7 786.5,641.2 794.5,643.9 802.5,646.7 810.5,649.1 818.5,651.3 826.5,654.1 834.5,656.9 842.5,659.8 850.5,663.4 858.5,667.6 866.5,673.1 874.5,679.3 882.5,687.1 890.5,695.7 898.5,702.9 906.5,710.8 914.5,717.8 922.5,722.5 930.5,725.7 938.5,726.5 946.5,726.0 954.5,723.2 962.5,719.1 970.5,714.7 978.5,708.9 986.5,702.7 994.5,696.3 1002.5,690.0 1010.5,683.9 1018.5,677.3 1026.5,671.4 1034.5,665.4 1042.5,659.5 1050.5,653.7 1058.5,648.8 1066.5,645.1 1074.5,641.9 1082.5,639.5 1090.5,637.7 1098.5,635.7 1106.5,633.7 1114.5,632.7 1122.5,632.3 1130.5,631.7 1138.5,631.1 1146.5,630.5 1154.5,629.4 1162.5,628.6 1170.5,628.3 1178.5,628.6 1186.5,628.7 1194.5,628.6 1202.5,628.2 1210.5,627.5 1218.5,626.9 1226.5,627.9 1234.5,629.5 1242.5,631.3 1250.5,633.2 1258.5,635.2 1266.5,637.5 1274.5,639.9 1282.5,642.1 1290.5,643.5 1298.5,643.2 1306.5,641.3 1314.5,638.7 1322.5,635.1 1330.5,630.6 1338.5,625.8 1346.5,621.4 1354.5,618.3 1362.5,615.8 1370.5,613.9 1378.5,612.9 1386.5,612.3 1394.5,612.3 1402.5,612.5 1410.5,612.7 1418.5,612.9 1426.5,612.9 1434.5,613.2 1442.5,613.0 1450.5,612.3" fill="none" stroke="#ff0000" stroke-width="1" stroke-dasharray="3,3" shape-rendering="crispEdges"/>
</g>
<g clip-path="url(#cr)">
<g shape-rendering="crispEdges">
<line x1="0" y1="786.5" x2="1685" y2="786.5" stroke="#c0c0c0" stroke-width="1" stroke-dasharray="3,3"/>
<line x1="0" y1="837.5" x2="1685" y2="837.5" stroke="#c0c0c0" stroke-width="1" stroke-dasharray="3,3"/>
<line x1="0" y1="898.5" x2="1685" y2="898.5" stroke="#c0c0c0" stroke-width="1" stroke-dasharray="3,3"/>
</g>
<polyline points="2.5,856.7 10.5,850.6 18.5,831.1 26.5,827.7 34.5,829.7 42.5,825.4 50.5,818.6 58.5,826.9 66.5,826.0 74.5,823.5 82.5,833.4 90.5,826.4 98.5,829.0 106.5,822.6 114.5,828.5 122.5,833.6 130.5,822.6 138.5,818.3 146.5,808.0 154.5,806.4 162.5,805.1 170.5,803.4 178.5,810.9 186.5,836.2 194.5,836.8 202.5,850.9 210.5,854.7 218.5,855.9 226.5,842.1 234.5,831.1 242.5,839.1 250.5,848.1 258.5,842.4 266.5,832.2 274.5,833.7 282.5,832.8 290.5,837.0 298.5,851.0 306.5,846.5 314.5,848.8 322.5,856.3 330.5,850.2 338.5,842.1 346.5,842.0 354.5,844.9 362.5,837.2 370.5,827.8 378.5,812.7 386.5,816.9 394.5,812.4 402.5,810.7 410.5,814.6 418.5,812.1 426.5,815.1 434.5,812.3 442.5,805.3 450.5,803.5 458.5,808.7 466.5,802.5 474.5,810.1 482.5,820.0 490.5,815.6 498.5,827.2 506.5,814.4 514.5,813.7 522.5,808.2 530.5,814.4 538.5,815.6 546.5,812.2 554.5,808.6 562.5,823.5 570.5,845.3 578.5,835.2 586.5,846.2 594.5,844.7 602.5,859.6 610.5,869.5 618.5,870.7 626.5,871.1 634.5,855.9 642.5,856.8 650.5,841.5 658.5,843.7 666.5,847.1 674.5,836.9 682.5,832.9 690.5,835.4 698.5,833.3 706.5,831.2 714.5,841.7 722.5,837.8 730.5,841.7 738.5,846.8 746.5,857.3 754.5,854.4 762.5,858.1 770.5,854.7 778.5,864.3 786.5,860.5 794.5,859.9 802.5,862.9 810.5,846.1 818.5,859.2 826.5,874.7 834.5,860.5 842.5,864.4 850.5,875.3 858.5,877.0 866.5,885.6 874.5,879.0 882.5,885.8 890.5,886.8 898.5,863.7 906.5,875.3 914.5,858.4 922.5,848.1 930.5,851.9 938.5,848.2 946.5,852.4 954.5,844.3 962.5,851.5 970.5,847.4 978.5,848.0 986.5,841.5 994.5,833.9 1002.5,841.3 1010.5,836.3 1018.5,834.1 1026.5,838.6 1034.5,839.6 1042.5,834.5 1050.5,835.5 1058.5,843.0 1066.5,841.1 1074.5,839.1 1082.5,843.1 1090.5,835.9 1098.5,830.0 1106.5,831.5 1114.5,848.3 1122.5,842.2 1130.5,837.9 1138.5,840.8 1146.5,836.6 1154.5,831.1 1162.5,836.9 1170.5,838.2 1178.5,844.6 1186.5,844.9 1194.5,839.6 1202.5,832.3 1210.5,830.6 1218.5,836.9 1226.5,858.8 1234.5,855.2 1242.5,846.6 1250.5,851.7 1258.5,853.0 1266.5,854.8 1274.5,842.0 1282.5,833.3 1290.5,829.0 1298.5,828.0 1306.5,821.8 1314.5,821.3 1322.5,819.4 1330.5,817.6 1338.5,832.1 1346.5,835.1 1354.5,845.2 1362.5,832.5 1370.5,831.6 1378.5,833.0 1386.5,828.0 1394.5,831.7 1402.5,823.1 1410.5,832.4 1418.5,836.0 1426.5,842.1 1434.5,837.8 1442.5,822.1 1450.5,819.5" fill="none" stroke="#1e90ff" stroke-width="1" shape-rendering="crispEdges"/>
</g>
<g clip-path="url(#cm)">
<rect x="1523" y="314" width="8" height="1" fill="#ff0000" shape-rendering="crispEdges"/>
<rect x="1530.5" y="312.5" width="3" height="3" fill="#fff" stroke="#ff0000" shape-rendering="crispEdges"/>
<rect x="1533.5" y="302.5" width="73" height="24" fill="#fff" stroke="#ff0000" shape-rendering="crispEdges"/>
<text x="1570" y="322.5" font-family="Liberation Sans, sans-serif" font-size="22" fill="#ff0000" text-anchor="middle" textLength="70" lengthAdjust="spacingAndGlyphs">24965.9</text>
<text x="1479" y="363" font-family="Liberation Sans, sans-serif" font-size="20" fill="#00ff00" textLength="112" lengthAdjust="spacing">多空转折点</text>
<line x1="1264" y1="472" x2="1329.8117521422027" y2="312.17145908322186" stroke="#ff0000" stroke-width="3.6" shape-rendering="crispEdges"/>
<polygon points="1334,302 1335.359820733051,314.4559579147476 1324.2636835513545,309.8869602516961" fill="#ff0000" shape-rendering="crispEdges"/>
<line x1="1337" y1="316" x2="1352.377716553364" y2="394.2066727571089" stroke="#ff0000" stroke-width="3.6" shape-rendering="crispEdges"/>
<polygon points="1354.5,405 1346.4904471481507,395.3642819098194 1358.2649859585774,393.0490636043984" fill="#ff0000" shape-rendering="crispEdges"/>
<line x1="1354" y1="400" x2="1396.7326265625136" y2="321.6568513020582" stroke="#ff0000" stroke-width="3.6" shape-rendering="crispEdges"/>
<polygon points="1402,312 1402.0,324.52996408614166 1391.4652531250272,318.78373851797477" fill="#ff0000" shape-rendering="crispEdges"/>
<line x1="1405" y1="316" x2="1422.5633066378446" y2="379.3992532292922" stroke="#ff0000" stroke-width="3.6" shape-rendering="crispEdges"/>
<polygon points="1425.5,390 1416.7810811265495,381.0010859722861 1428.3455321491397,377.7974204862983" fill="#ff0000" shape-rendering="crispEdges"/>
<line x1="1426" y1="386" x2="1461.3241921938602" y2="286.36766304295827" stroke="#ff0000" stroke-width="3.6" shape-rendering="crispEdges"/>
<polygon points="1465,276 1466.9792811263828,288.3726491190345 1455.6691032613376,284.362676966882" fill="#ff0000" shape-rendering="crispEdges"/>
<rect x="1280" y="307" width="204" height="10" fill="#00ff00"/>
</g>
<g shape-rendering="crispEdges">
<rect x="1686" y="45" width="2" height="1" fill="#000"/>
<rect x="1686" y="78" width="2" height="1" fill="#000"/>
<rect x="1686" y="111" width="2" height="1" fill="#000"/>
<rect x="1686" y="145" width="2" height="1" fill="#000"/>
<rect x="1686" y="177" width="2" height="1" fill="#000"/>
<rect x="1686" y="210" width="2" height="1" fill="#000"/>
<rect x="1686" y="243" width="2" height="1" fill="#000"/>
<rect x="1686" y="277" width="2" height="1" fill="#000"/>
<rect x="1686" y="310" width="2" height="1" fill="#000"/>
<rect x="1686" y="343" width="2" height="1" fill="#000"/>
<rect x="1686" y="375" width="2" height="1" fill="#000"/>
<rect x="1686" y="408" width="2" height="1" fill="#000"/>
<rect x="1686" y="442" width="2" height="1" fill="#000"/>
<rect x="1686" y="475" width="2" height="1" fill="#000"/>
<rect x="1686" y="508" width="2" height="1" fill="#000"/>
<rect x="1686" y="540" width="2" height="1" fill="#000"/>
<rect x="1686" y="573" width="2" height="1" fill="#000"/>
</g>
<text x="1691" y="49.1" font-family="Liberation Sans, sans-serif" font-size="10" fill="#000" stroke="#000" stroke-width="0.2" text-anchor="start" textLength="33" lengthAdjust="spacingAndGlyphs" >29298.0</text>
<text x="1691" y="81.92561392601803" font-family="Liberation Sans, sans-serif" font-size="10" fill="#000" stroke="#000" stroke-width="0.2" text-anchor="start" textLength="33" lengthAdjust="spacingAndGlyphs" >28770.0</text>
<text x="1691" y="114.75122785203607" font-family="Liberation Sans, sans-serif" font-size="10" fill="#000" stroke="#000" stroke-width="0.2" text-anchor="start" textLength="33" lengthAdjust="spacingAndGlyphs" >28242.0</text>
<text x="1691" y="148.5715573515698" font-family="Liberation Sans, sans-serif" font-size="10" fill="#000" stroke="#000" stroke-width="0.2" text-anchor="start" textLength="33" lengthAdjust="spacingAndGlyphs" >27698.0</text>
<text x="1691" y="181.3971712775878" font-family="Liberation Sans, sans-serif" font-size="10" fill="#000" stroke="#000" stroke-width="0.2" text-anchor="start" textLength="33" lengthAdjust="spacingAndGlyphs" >27170.0</text>
<text x="1691" y="214.22278520360584" font-family="Liberation Sans, sans-serif" font-size="10" fill="#000" stroke="#000" stroke-width="0.2" text-anchor="start" textLength="33" lengthAdjust="spacingAndGlyphs" >26642.0</text>
<text x="1691" y="247.04839912962385" font-family="Liberation Sans, sans-serif" font-size="10" fill="#000" stroke="#000" stroke-width="0.2" text-anchor="start" textLength="33" lengthAdjust="spacingAndGlyphs" >26114.0</text>
<text x="1691" y="280.8687286291576" font-family="Liberation Sans, sans-serif" font-size="10" fill="#000" stroke="#000" stroke-width="0.2" text-anchor="start" textLength="33" lengthAdjust="spacingAndGlyphs" >25570.0</text>
<text x="1691" y="313.69434255517564" font-family="Liberation Sans, sans-serif" font-size="10" fill="#000" stroke="#000" stroke-width="0.2" text-anchor="start" textLength="33" lengthAdjust="spacingAndGlyphs" >25042.0</text>
<text x="1691" y="346.5199564811937" font-family="Liberation Sans, sans-serif" font-size="10" fill="#000" stroke="#000" stroke-width="0.2" text-anchor="start" textLength="33" lengthAdjust="spacingAndGlyphs" >24514.0</text>
<text x="1691" y="379.3455704072117" font-family="Liberation Sans, sans-serif" font-size="10" fill="#000" stroke="#000" stroke-width="0.2" text-anchor="start" textLength="33" lengthAdjust="spacingAndGlyphs" >23986.0</text>
<text x="1691" y="412.17118433322975" font-family="Liberation Sans, sans-serif" font-size="10" fill="#000" stroke="#000" stroke-width="0.2" text-anchor="start" textLength="33" lengthAdjust="spacingAndGlyphs" >23458.0</text>
<text x="1691" y="445.9915138327635" font-family="Liberation Sans, sans-serif" font-size="10" fill="#000" stroke="#000" stroke-width="0.2" text-anchor="start" textLength="33" lengthAdjust="spacingAndGlyphs" >22914.0</text>
<text x="1691" y="478.81712775878145" font-family="Liberation Sans, sans-serif" font-size="10" fill="#000" stroke="#000" stroke-width="0.2" text-anchor="start" textLength="33" lengthAdjust="spacingAndGlyphs" >22386.0</text>
<text x="1691" y="511.6427416847995" font-family="Liberation Sans, sans-serif" font-size="10" fill="#000" stroke="#000" stroke-width="0.2" text-anchor="start" textLength="33" lengthAdjust="spacingAndGlyphs" >21858.0</text>
<text x="1691" y="544.4683556108175" font-family="Liberation Sans, sans-serif" font-size="10" fill="#000" stroke="#000" stroke-width="0.2" text-anchor="start" textLength="33" lengthAdjust="spacingAndGlyphs" >21330.0</text>
<text x="1691" y="577.2939695368356" font-family="Liberation Sans, sans-serif" font-size="10" fill="#000" stroke="#000" stroke-width="0.2" text-anchor="start" textLength="33" lengthAdjust="spacingAndGlyphs" >20802.0</text>
<rect x="1687" y="217" width="41" height="11" fill="#ff0000"/>
<text x="1707.5" y="226" font-family="Liberation Sans, sans-serif" font-size="10" fill="#fff" stroke="#fff" stroke-width="0.2" text-anchor="middle" textLength="33" lengthAdjust="spacingAndGlyphs" >26428.9</text>
<rect x="1687" y="247" width="41" height="11" fill="#ff0000"/>
<text x="1707.5" y="256" font-family="Liberation Sans, sans-serif" font-size="10" fill="#fff" stroke="#fff" stroke-width="0.2" text-anchor="middle" textLength="33" lengthAdjust="spacingAndGlyphs" >25946.6</text>
<rect x="1687" y="289" width="41" height="11" fill="#000000"/>
<text x="1707.5" y="298" font-family="Liberation Sans, sans-serif" font-size="10" fill="#fff" stroke="#fff" stroke-width="0.2" text-anchor="middle" textLength="33" lengthAdjust="spacingAndGlyphs" >25291.0</text>
<rect x="1687" y="308" width="41" height="11" fill="#32cd32"/>
<text x="1707.5" y="317" font-family="Liberation Sans, sans-serif" font-size="10" fill="#fff" stroke="#fff" stroke-width="0.2" text-anchor="middle" textLength="33" lengthAdjust="spacingAndGlyphs" >24965.9</text>
<rect x="1687" y="332" width="41" height="11" fill="#0000ff"/>
<text x="1707.5" y="341" font-family="Liberation Sans, sans-serif" font-size="10" fill="#fff" stroke="#fff" stroke-width="0.2" text-anchor="middle" textLength="33" lengthAdjust="spacingAndGlyphs" >24580.1</text>
<rect x="1687" y="363" width="41" height="11" fill="#0000ff"/>
<text x="1707.5" y="372" font-family="Liberation Sans, sans-serif" font-size="10" fill="#fff" stroke="#fff" stroke-width="0.2" text-anchor="middle" textLength="33" lengthAdjust="spacingAndGlyphs" >24081.8</text>
<rect x="1686" y="626" width="2" height="1" fill="#000" shape-rendering="crispEdges"/>
<rect x="1686" y="580" width="1" height="1" fill="#000" shape-rendering="crispEdges"/>
<rect x="1686" y="747" width="1" height="1" fill="#000" shape-rendering="crispEdges"/>
<rect x="1686" y="752" width="1" height="1" fill="#000" shape-rendering="crispEdges"/>
<rect x="1686" y="923" width="2" height="1" fill="#000" shape-rendering="crispEdges"/>
<text x="1690" y="590" font-family="Liberation Sans, sans-serif" font-size="10" fill="#000" stroke="#000" stroke-width="0.2" text-anchor="start" textLength="27" lengthAdjust="spacingAndGlyphs" >536.18</text>
<text x="1690" y="631" font-family="Liberation Sans, sans-serif" font-size="10" fill="#000" stroke="#000" stroke-width="0.2" text-anchor="start" textLength="18" lengthAdjust="spacingAndGlyphs" >0.00</text>
<text x="1689" y="746" font-family="Liberation Sans, sans-serif" font-size="10" fill="#000" stroke="#000" stroke-width="0.2" text-anchor="start" textLength="36" lengthAdjust="spacingAndGlyphs" >-1412.34</text>
<text x="1689" y="762" font-family="Liberation Sans, sans-serif" font-size="10" fill="#000" stroke="#000" stroke-width="0.2" text-anchor="start" textLength="15" lengthAdjust="spacingAndGlyphs" >100</text>
<text x="1688" y="790.5" font-family="Liberation Sans, sans-serif" font-size="10" fill="#000" stroke="#000" stroke-width="0.2" text-anchor="start" textLength="10" lengthAdjust="spacingAndGlyphs" >80</text>
<text x="1688" y="841.5" font-family="Liberation Sans, sans-serif" font-size="10" fill="#000" stroke="#000" stroke-width="0.2" text-anchor="start" textLength="10" lengthAdjust="spacingAndGlyphs" >50</text>
<text x="1688" y="902.5" font-family="Liberation Sans, sans-serif" font-size="10" fill="#000" stroke="#000" stroke-width="0.2" text-anchor="start" textLength="10" lengthAdjust="spacingAndGlyphs" >15</text>
<text x="1688" y="921.5" font-family="Liberation Sans, sans-serif" font-size="10" fill="#000" stroke="#000" stroke-width="0.2" text-anchor="start" textLength="5" lengthAdjust="spacingAndGlyphs" >0</text>
<text x="-1" y="592" font-family="Liberation Sans, sans-serif" font-size="10" fill="#000" stroke="#000" stroke-width="0.2" text-anchor="start" textLength="126" lengthAdjust="spacingAndGlyphs" >MACD(12,26,9) 217.49 166.91</text>
<text x="-1" y="763.5" font-family="Liberation Sans, sans-serif" font-size="10" fill="#000" stroke="#000" stroke-width="0.2" text-anchor="start" textLength="67" lengthAdjust="spacingAndGlyphs" >RSI(14) 60.7603</text>
<g shape-rendering="crispEdges">
<rect x="-6" y="925" width="1" height="3" fill="#000"/>
<rect x="58" y="925" width="1" height="3" fill="#000"/>
<rect x="122" y="925" width="1" height="3" fill="#000"/>
<rect x="186" y="925" width="1" height="3" fill="#000"/>
<rect x="250" y="925" width="1" height="3" fill="#000"/>
<rect x="314" y="925" width="1" height="3" fill="#000"/>
<rect x="378" y="925" width="1" height="3" fill="#000"/>
<rect x="442" y="925" width="1" height="3" fill="#000"/>
<rect x="506" y="925" width="1" height="3" fill="#000"/>
<rect x="570" y="925" width="1" height="3" fill="#000"/>
<rect x="634" y="925" width="1" height="3" fill="#000"/>
<rect x="698" y="925" width="1" height="3" fill="#000"/>
<rect x="762" y="925" width="1" height="3" fill="#000"/>
<rect x="826" y="925" width="1" height="3" fill="#000"/>
<rect x="890" y="925" width="1" height="3" fill="#000"/>
<rect x="954" y="925" width="1" height="3" fill="#000"/>
<rect x="1018" y="925" width="1" height="3" fill="#000"/>
<rect x="1082" y="925" width="1" height="3" fill="#000"/>
<rect x="1146" y="925" width="1" height="3" fill="#000"/>
<rect x="1210" y="925" width="1" height="3" fill="#000"/>
<rect x="1274" y="925" width="1" height="3" fill="#000"/>
<rect x="1338" y="925" width="1" height="3" fill="#000"/>
<rect x="1402" y="925" width="1" height="3" fill="#000"/>
</g>
<text x="-6.5" y="937" font-family="Liberation Sans, sans-serif" font-size="10" fill="#000" stroke="#000" stroke-width="0.2" text-anchor="start" textLength="44" lengthAdjust="spacingAndGlyphs" >8 Oct 2019</text>
<text x="57.5" y="937" font-family="Liberation Sans, sans-serif" font-size="10" fill="#000" stroke="#000" stroke-width="0.2" text-anchor="start" textLength="50" lengthAdjust="spacingAndGlyphs" >18 Oct 2019</text>
<text x="121.5" y="937" font-family="Liberation Sans, sans-serif" font-size="10" fill="#000" stroke="#000" stroke-width="0.2" text-anchor="start" textLength="50" lengthAdjust="spacingAndGlyphs" >30 Oct 2019</text>
<text x="185.5" y="937" font-family="Liberation Sans, sans-serif" font-size="10" fill="#000" stroke="#000" stroke-width="0.2" text-anchor="start" textLength="50" lengthAdjust="spacingAndGlyphs" >11 Nov 2019</text>
<text x="249.5" y="937" font-family="Liberation Sans, sans-serif" font-size="10" fill="#000" stroke="#000" stroke-width="0.2" text-anchor="start" textLength="50" lengthAdjust="spacingAndGlyphs" >21 Nov 2019</text>
<text x="313.5" y="937" font-family="Liberation Sans, sans-serif" font-size="10" fill="#000" stroke="#000" stroke-width="0.2" text-anchor="start" textLength="44" lengthAdjust="spacingAndGlyphs" >3 Dec 2019</text>
<text x="377.5" y="937" font-family="Liberation Sans, sans-serif" font-size="10" fill="#000" stroke="#000" stroke-width="0.2" text-anchor="start" textLength="50" lengthAdjust="spacingAndGlyphs" >13 Dec 2019</text>
<text x="441.5" y="937" font-family="Liberation Sans, sans-serif" font-size="10" fill="#000" stroke="#000" stroke-width="0.2" text-anchor="start" textLength="50" lengthAdjust="spacingAndGlyphs" >27 Dec 2019</text>
<text x="505.5" y="937" font-family="Liberation Sans, sans-serif" font-size="10" fill="#000" stroke="#000" stroke-width="0.2" text-anchor="start" textLength="44" lengthAdjust="spacingAndGlyphs" >9 Jan 2020</text>
<text x="569.5" y="937" font-family="Liberation Sans, sans-serif" font-size="10" fill="#000" stroke="#000" stroke-width="0.2" text-anchor="start" textLength="50" lengthAdjust="spacingAndGlyphs" >21 Jan 2020</text>
<text x="633.5" y="937" font-family="Liberation Sans, sans-serif" font-size="10" fill="#000" stroke="#000" stroke-width="0.2" text-anchor="start" textLength="44" lengthAdjust="spacingAndGlyphs" >4 Feb 2020</text>
<text x="697.5" y="937" font-family="Liberation Sans, sans-serif" font-size="10" fill="#000" stroke="#000" stroke-width="0.2" text-anchor="start" textLength="50" lengthAdjust="spacingAndGlyphs" >14 Feb 2020</text>
<text x="761.5" y="937" font-family="Liberation Sans, sans-serif" font-size="10" fill="#000" stroke="#000" stroke-width="0.2" text-anchor="start" textLength="50" lengthAdjust="spacingAndGlyphs" >26 Feb 2020</text>
<text x="825.5" y="937" font-family="Liberation Sans, sans-serif" font-size="10" fill="#000" stroke="#000" stroke-width="0.2" text-anchor="start" textLength="44" lengthAdjust="spacingAndGlyphs" >9 Mar 2020</text>
<text x="889.5" y="937" font-family="Liberation Sans, sans-serif" font-size="10" fill="#000" stroke="#000" stroke-width="0.2" text-anchor="start" textLength="50" lengthAdjust="spacingAndGlyphs" >19 Mar 2020</text>
<text x="953.5" y="937" font-family="Liberation Sans, sans-serif" font-size="10" fill="#000" stroke="#000" stroke-width="0.2" text-anchor="start" textLength="50" lengthAdjust="spacingAndGlyphs" >31 Mar 2020</text>
<text x="1017.5" y="937" font-family="Liberation Sans, sans-serif" font-size="10" fill="#000" stroke="#000" stroke-width="0.2" text-anchor="start" textLength="50" lengthAdjust="spacingAndGlyphs" >14 Apr 2020</text>
<text x="1081.5" y="937" font-family="Liberation Sans, sans-serif" font-size="10" fill="#000" stroke="#000" stroke-width="0.2" text-anchor="start" textLength="50" lengthAdjust="spacingAndGlyphs" >24 Apr 2020</text>
<text x="1145.5" y="937" font-family="Liberation Sans, sans-serif" font-size="10" fill="#000" stroke="#000" stroke-width="0.2" text-anchor="start" textLength="44" lengthAdjust="spacingAndGlyphs" >8 May 2020</text>
<text x="1209.5" y="937" font-family="Liberation Sans, sans-serif" font-size="10" fill="#000" stroke="#000" stroke-width="0.2" text-anchor="start" textLength="50" lengthAdjust="spacingAndGlyphs" >20 May 2020</text>
<text x="1273.5" y="937" font-family="Liberation Sans, sans-serif" font-size="10" fill="#000" stroke="#000" stroke-width="0.2" text-anchor="start" textLength="44" lengthAdjust="spacingAndGlyphs" >1 Jun 2020</text>
<text x="1337.5" y="937" font-family="Liberation Sans, sans-serif" font-size="10" fill="#000" stroke="#000" stroke-width="0.2" text-anchor="start" textLength="50" lengthAdjust="spacingAndGlyphs" >11 Jun 2020</text>
<text x="1401.5" y="937" font-family="Liberation Sans, sans-serif" font-size="10" fill="#000" stroke="#000" stroke-width="0.2" text-anchor="start" textLength="50" lengthAdjust="spacingAndGlyphs" >23 Jun 2020</text>
<polygon points="0,29.5 4.5,34 0,34" fill="#000"/>
<text x="9" y="35" font-family="Liberation Sans, sans-serif" font-size="10" fill="#000" stroke="#000" stroke-width="0.2" text-anchor="start" textLength="198" lengthAdjust="spacingAndGlyphs" >HK50-,Daily&#160;&#160;25069.0 25411.0 25069.0 25291.0</text>
<defs>
<linearGradient id="gr1" x1="0" y1="0" x2="0" y2="1"><stop offset="0" stop-color="#f85555"/><stop offset="1" stop-color="#e03535"/></linearGradient>
<linearGradient id="gr2" x1="0" y1="0" x2="0" y2="1"><stop offset="0" stop-color="#e03030"/><stop offset="1" stop-color="#b00505"/></linearGradient>
<linearGradient id="gbtn" x1="0" y1="0" x2="0" y2="1"><stop offset="0" stop-color="#f4f4f4"/><stop offset="1" stop-color="#d4d4d4"/></linearGradient>
</defs>
<g shape-rendering="crispEdges">
<rect x="0" y="43" width="49" height="25" fill="url(#gr1)"/>
<rect x="164" y="43" width="52" height="25" fill="url(#gr1)"/>
<rect x="0" y="67" width="106" height="40" fill="url(#gr2)"/>
<rect x="108" y="67" width="108" height="40" fill="url(#gr2)"/>
<rect x="0" y="43" width="49" height="1" fill="#c00000"/>
<rect x="164" y="43" width="52" height="1" fill="#c00000"/>
<rect x="1" y="66" width="44" height="1" fill="#800000"/>
<rect x="1" y="67" width="44" height="1" fill="#f07070"/>
<rect x="168" y="66" width="44" height="1" fill="#800000"/>
<rect x="168" y="67" width="44" height="1" fill="#f07070"/>
<rect x="49" y="43" width="115" height="24" fill="#fff"/>
<rect x="51.5" y="43.5" width="110" height="20" fill="#fff" stroke="#a8a8a8"/>
<rect x="52" y="44" width="20" height="19" fill="url(#gbtn)"/>
<rect x="72" y="44" width="1" height="19" fill="#b8b8b8"/>
<rect x="140" y="44" width="1" height="19" fill="#b8b8b8"/>
<rect x="141" y="44" width="20" height="19" fill="url(#gbtn)"/>
</g>
<polygon points="59,52 65,52 62,55" fill="#5060c0"/>
<polygon points="148,55 154,55 151,52" fill="#5060c0"/>
<text x="136" y="58" font-family="Liberation Sans, sans-serif" font-size="13" fill="#000" stroke="#000" stroke-width="0.2" text-anchor="end" textLength="23" lengthAdjust="spacingAndGlyphs" >1.00</text>
<text x="9.5" y="59" font-family="Liberation Sans, sans-serif" font-size="12" fill="#ffe8e8" stroke="#ffe8e8" stroke-width="0.2" text-anchor="start" textLength="25" lengthAdjust="spacingAndGlyphs" >SELL</text>
<text x="177" y="59" font-family="Liberation Sans, sans-serif" font-size="12" fill="#ffe8e8" stroke="#ffe8e8" stroke-width="0.2" text-anchor="start" textLength="24" lengthAdjust="spacingAndGlyphs" >BUY</text>
<text x="13" y="98" font-family="Liberation Sans, sans-serif" font-size="12.5" fill="#fff" stroke="#fff" stroke-width="0.2" text-anchor="start" textLength="35" lengthAdjust="spacingAndGlyphs" font-weight="bold">25289</text>
<rect x="52.5" y="93" width="4" height="4" rx="1" fill="#fff"/>
<text x="59.5" y="97.5" font-family="Liberation Sans, sans-serif" font-size="33" fill="#fff" stroke="#fff" stroke-width="0.2" text-anchor="start" textLength="15" lengthAdjust="spacingAndGlyphs" >5</text>
<text x="123" y="98" font-family="Liberation Sans, sans-serif" font-size="12.5" fill="#fff" stroke="#fff" stroke-width="0.2" text-anchor="start" textLength="35" lengthAdjust="spacingAndGlyphs" font-weight="bold">25303</text>
<rect x="162.5" y="93" width="4" height="4" rx="1" fill="#fff"/>
<text x="170" y="97.5" font-family="Liberation Sans, sans-serif" font-size="33" fill="#fff" stroke="#fff" stroke-width="0.2" text-anchor="start" textLength="15" lengthAdjust="spacingAndGlyphs" >5</text>
<g shape-rendering="crispEdges">
<rect x="0" y="0" width="1732" height="18" fill="#efefef"/>
<rect x="0" y="18" width="1732" height="1" fill="#f4f4f4"/>
<rect x="0" y="19" width="1732" height="1" fill="#a8a8a8"/>
<rect x="0" y="20" width="1732" height="1" fill="#696969"/>
</g>
<rect x="-2.5" y="-3.5" width="11" height="16.5" fill="#fff" stroke="#2a70c0" stroke-width="1.6"/>
<path d="M0 2.5 H7 M0 5.5 H7 M0 8.5 H7" stroke="#9fc0ef"/>
<path d="M21.5 -3.5 H33.5 V12.5 H21.5 Z" fill="#fcfcfa" stroke="#a09880"/>
<path d="M24.5 1 V6 M23.5 5.5 H26 M30.5 1 V3" stroke="#606060" stroke-width="1"/>
<circle cx="29.5" cy="8" r="4.5" fill="#dce9f6" stroke="#7aa0d0" stroke-width="1.2"/>
<path d="M32.5 11 L37.5 15.5" stroke="#c89a20" stroke-width="2.5"/>
<rect x="46" y="0" width="1" height="17" fill="#a0a0a0" shape-rendering="crispEdges"/>
<rect x="47" y="0" width="1" height="17" fill="#fcfcfc" shape-rendering="crispEdges"/>
<path d="M56.5 -3.5 H64 L67.5 0 V11.5 H56.5 Z" fill="#fafafa" stroke="#909090"/>
<path d="M58 1.5 H61 M58 4.5 H65 M58 7.5 H64" stroke="#808080"/>
<path d="M66 5 V17 M60 11 H72" stroke="#109010" stroke-width="4.5"/>
<path d="M66 6 V16 M61 11 H71" stroke="#30e030" stroke-width="2.5"/>
<text x="75" y="10" font-family="Liberation Sans, sans-serif" font-size="12.5" fill="#000" stroke="#000" stroke-width="0.12" textLength="37" lengthAdjust="spacingAndGlyphs">新订单</text>
<defs><linearGradient id="gbook" x1="0" y1="0" x2="1" y2="1"><stop offset="0" stop-color="#f8e070"/><stop offset="1" stop-color="#c89010"/></linearGradient></defs>
<polygon points="128.4,-1 138.5,7.6 131,14.7 123.2,8.7" fill="url(#gbook)" stroke="#8a5a10" stroke-width="1"/>
<path d="M137 9.5 L130.5 14 M125 9.5 L131 13" stroke="#e8dcb0" stroke-width="1"/>
<rect x="153" y="-3" width="11" height="11" fill="#1a98f0"/>
<path d="M156.5 -3 V8" stroke="#d8f0ff" stroke-width="0.8"/>
<rect x="158" y="3.5" width="4" height="1.2" fill="#e0f4ff"/>
<path d="M152 14.5 Q150 10.5 154 10.5 Q155.5 7 159.5 8.2 Q161.5 7 163.5 9.5 Q167 9.5 166.5 12.5 Q166.5 14.5 164.5 14.5 Z" fill="#eef0f6" stroke="#3a5a90" stroke-width="1"/>
<path d="M186.7 14.5 A7.3 7.3 0 0 1 186.7 -0.1" stroke="#5a80d0" stroke-width="1" fill="none" opacity="0.8"/>
<path d="M186.7 11.5 A4.4 4.4 0 0 1 186.7 2.6" stroke="#7a9ad8" stroke-width="1" fill="none" opacity="0.7"/>
<path d="M186.7 -0.1 A7.3 7.3 0 0 1 186.7 14.5" stroke="#3a9a50" stroke-width="1" fill="none" opacity="0.8"/>
<path d="M186.7 2.6 A4.4 4.4 0 0 1 186.7 11.5" stroke="#80c090" stroke-width="1.2" fill="none"/>
<circle cx="186.7" cy="7" r="1.9" fill="#2050c8"/>
<path d="M187.4 7 V14.8" stroke="#18a018" stroke-width="1"/>
<polygon points="206.2,6.3 221.5,5.6 213.5,14.8" fill="#f6e060" stroke="#c8a020" stroke-width="0.8"/>
<ellipse cx="214" cy="4.2" rx="7.6" ry="2.6" fill="#6ab8e8" stroke="#2a80b0" stroke-width="0.8"/>
<path d="M211.5 3.5 L212.5 -3 L216 -3 L217 3.5 Z" fill="#80c8f0"/>
<circle cx="218.6" cy="10.6" r="4.2" fill="#e02010"/>
<rect x="217" y="9" width="3.2" height="3.2" fill="#fff"/>
<text x="227" y="10" font-family="Liberation Sans, sans-serif" font-size="12.5" fill="#000" stroke="#000" stroke-width="0.12" textLength="48" lengthAdjust="spacingAndGlyphs">自动交易</text>
<rect x="283" y="1" width="3" height="1" fill="#a8a8a8" shape-rendering="crispEdges"/>
<rect x="283" y="3" width="3" height="1" fill="#a8a8a8" shape-rendering="crispEdges"/>
<rect x="283" y="5" width="3" height="1" fill="#a8a8a8" shape-rendering="crispEdges"/>
<rect x="283" y="7" width="3" height="1" fill="#a8a8a8" shape-rendering="crispEdges"/>
<rect x="283" y="9" width="3" height="1" fill="#a8a8a8" shape-rendering="crispEdges"/>
<rect x="283" y="11" width="3" height="1" fill="#a8a8a8" shape-rendering="crispEdges"/>
<rect x="283" y="13" width="3" height="1" fill="#a8a8a8" shape-rendering="crispEdges"/>
<rect x="283" y="15" width="3" height="1" fill="#a8a8a8" shape-rendering="crispEdges"/>
<path d="M300.5 1.5 V14 M298 12.5 H312" stroke="#505050" stroke-width="1" fill="none"/>
<path d="M299 3 L300.5 1 L302 3 M310 11 L312 12.5 L310 14" stroke="#505050" stroke-width="1" fill="none"/>
<path d="M303.5 10.5 H305.5 V3.5 H308" stroke="#20a020" fill="none" stroke-width="1.2"/>
<rect x="320" y="0" width="1" height="17" fill="#a0a0a0" shape-rendering="crispEdges"/>
<rect x="321" y="0" width="1" height="17" fill="#fcfcfc" shape-rendering="crispEdges"/>
<rect x="322" y="0" width="23" height="17" fill="#f6f6f6" shape-rendering="crispEdges"/>
<path d="M328.5 1.5 V14 M326 12.5 H340" stroke="#505050" stroke-width="1" fill="none"/>
<path d="M327 3 L328.5 1 L330 3 M338 11 L340 12.5 L338 14" stroke="#505050" stroke-width="1" fill="none"/>
<rect x="332" y="0" width="5" height="8" fill="#30d040" stroke="#108020" stroke-width="0.8"/>
<path d="M334.5 -1 V10" stroke="#108020"/>
<path d="M356.5 1.5 V14 M354 12.5 H368" stroke="#505050" stroke-width="1" fill="none"/>
<path d="M355 3 L356.5 1 L358 3 M366 11 L368 12.5 L366 14" stroke="#505050" stroke-width="1" fill="none"/>
<path d="M356 9.5 Q361 1 364 4 L368 7" stroke="#20a020" fill="none" stroke-width="1.1"/>
<rect x="377" y="0" width="1" height="17" fill="#a0a0a0" shape-rendering="crispEdges"/>
<rect x="378" y="0" width="1" height="17" fill="#fcfcfc" shape-rendering="crispEdges"/>
<path d="M394.5 8.5 L400.5 14.5" stroke="#b08a10" stroke-width="3"/>
<path d="M394.5 8.5 L400.5 14.5" stroke="#e8d070" stroke-width="1.5"/>
<circle cx="391.5" cy="5" r="5" fill="#cfe3f8" stroke="#3a78c8" stroke-width="1.2"/>
<path d="M388.5 5 H394.5" stroke="#2a68b8" stroke-width="1.8"/>
<path d="M391.5 2 V8" stroke="#2a68b8" stroke-width="1.8"/>
<path d="M422.5 8.5 L428.5 14.5" stroke="#b08a10" stroke-width="3"/>
<path d="M422.5 8.5 L428.5 14.5" stroke="#e8d070" stroke-width="1.5"/>
<circle cx="419.5" cy="5" r="5" fill="#cfe3f8" stroke="#3a78c8" stroke-width="1.2"/>
<path d="M416.5 5 H422.5" stroke="#2a68b8" stroke-width="1.8"/>
<rect x="442.5" y="-2.5" width="7" height="7" fill="#3aa03a" stroke="#2a7a2a"/>
<rect x="450.5" y="-2.5" width="7" height="7" fill="#2a60d0" stroke="#1a40a0"/>
<rect x="442.5" y="6.5" width="7" height="8" fill="#2a60d0" stroke="#1a40a0"/>
<rect x="450.5" y="6.5" width="7" height="8" fill="#3aa03a" stroke="#2a7a2a"/>
<path d="M444 2 H448 M452 2 H456 M444 10 H448 M452 10 H456" stroke="#fff"/>
<rect x="467" y="0" width="1" height="17" fill="#a0a0a0" shape-rendering="crispEdges"/>
<rect x="468" y="0" width="1" height="17" fill="#fcfcfc" shape-rendering="crispEdges"/>
<rect x="472" y="0" width="1" height="17" fill="#a0a0a0" shape-rendering="crispEdges"/>
<rect x="473" y="0" width="1" height="17" fill="#fcfcfc" shape-rendering="crispEdges"/>
<rect x="474" y="0" width="24" height="17" fill="#f6f6f6" shape-rendering="crispEdges"/>
<path d="M480.5 1.5 V14 M478 12.5 H492" stroke="#505050" stroke-width="1" fill="none"/>
<path d="M479 3 L480.5 1 L482 3 M490 11 L492 12.5 L490 14" stroke="#505050" stroke-width="1" fill="none"/>
<polygon points="485,3 485,9 489,6" fill="#30b030"/>
<rect x="500" y="0" width="1" height="17" fill="#a0a0a0" shape-rendering="crispEdges"/>
<rect x="501" y="0" width="1" height="17" fill="#fcfcfc" shape-rendering="crispEdges"/>
<rect x="502" y="0" width="24" height="17" fill="#f6f6f6" shape-rendering="crispEdges"/>
<path d="M508.5 1.5 V14 M506 12.5 H520" stroke="#505050" stroke-width="1" fill="none"/>
<path d="M507 3 L508.5 1 L510 3 M518 11 L520 12.5 L518 14" stroke="#505050" stroke-width="1" fill="none"/>
<path d="M514.5 1 V11" stroke="#2060b0" stroke-width="1.2"/>
<path d="M519 6 H516 M517.5 4 L515.5 6 L517.5 8" stroke="#e05010" stroke-width="1.2" fill="none"/>
<rect x="529" y="0" width="1" height="17" fill="#a0a0a0" shape-rendering="crispEdges"/>
<rect x="530" y="0" width="1" height="17" fill="#fcfcfc" shape-rendering="crispEdges"/>
<path d="M539.5 -3.5 H547 L550.5 0 V11.5 H539.5 Z" fill="#fafafa" stroke="#909090"/>
<path d="M541 1.5 H544 M541 4.5 H548 M541 7.5 H547" stroke="#808080"/>
<path d="M549 5 V17 M543 11 H555" stroke="#109010" stroke-width="4.5"/>
<path d="M549 6 V16 M544 11 H554" stroke="#30e030" stroke-width="2.5"/>
<polygon points="560,6 566,6 563,9" fill="#000"/>
<circle cx="585" cy="6.8" r="6.8" fill="#f4f8fc" stroke="#1a70d8" stroke-width="2.2"/>
<path d="M584.5 2.8 V6.8 H587.5" stroke="#303030" stroke-width="1" fill="none"/>
<polygon points="599,6 605,6 602,9" fill="#000"/>
<rect x="616.5" y="-1.5" width="15" height="14" fill="#fff" stroke="#3a70c0"/>
<rect x="617" y="-1" width="14" height="2.5" fill="#4a80d0"/>
<path d="M618 5 L621 4 L624 5 L627 3.5 L630 3.5" stroke="#c03020" fill="none"/>
<path d="M617 7.5 H631" stroke="#3a70c0"/>
<path d="M618 11 L621 10 L624 10.5 L627 9 L630 10" stroke="#20a020" fill="none"/>
<polygon points="639,6 645,6 642,9" fill="#000"/>
<rect x="650" y="0" width="1" height="17" fill="#a0a0a0" shape-rendering="crispEdges"/>
<rect x="651" y="0" width="1" height="17" fill="#fcfcfc" shape-rendering="crispEdges"/>
<rect x="654" y="1" width="3" height="1" fill="#a8a8a8" shape-rendering="crispEdges"/>
<rect x="654" y="3" width="3" height="1" fill="#a8a8a8" shape-rendering="crispEdges"/>
<rect x="654" y="5" width="3" height="1" fill="#a8a8a8" shape-rendering="crispEdges"/>
<rect x="654" y="7" width="3" height="1" fill="#a8a8a8" shape-rendering="crispEdges"/>
<rect x="654" y="9" width="3" height="1" fill="#a8a8a8" shape-rendering="crispEdges"/>
<rect x="654" y="11" width="3" height="1" fill="#a8a8a8" shape-rendering="crispEdges"/>
<rect x="654" y="13" width="3" height="1" fill="#a8a8a8" shape-rendering="crispEdges"/>
<rect x="654" y="15" width="3" height="1" fill="#a8a8a8" shape-rendering="crispEdges"/>
<rect x="660" y="0" width="1" height="17" fill="#a0a0a0" shape-rendering="crispEdges"/>
<rect x="661" y="0" width="1" height="17" fill="#fcfcfc" shape-rendering="crispEdges"/>
<rect x="662" y="0" width="23" height="17" fill="#f6f6f6" shape-rendering="crispEdges"/>
<polygon points="667,2 667,13 670,10.5 672.5,15 674.5,14 672,9.5 676,9.5" fill="#303030"/>
<path d="M693 7.5 H708 M700.5 0 V15" stroke="#505050" stroke-width="1"/>
<rect x="717" y="0" width="1" height="17" fill="#a0a0a0" shape-rendering="crispEdges"/>
<rect x="718" y="0" width="1" height="17" fill="#fcfcfc" shape-rendering="crispEdges"/>
<path d="M734.5 2 V13" stroke="#505050" stroke-width="1.2"/>
<path d="M757 7.5 H769" stroke="#505050" stroke-width="1.2"/>
<path d="M785 14 L797 2" stroke="#505050" stroke-width="1.2"/>
<path d="M811 11 L823 1 M812 14 L824 4 M813 5 L815 12 M817 3 L819 10 M821 1 L822 8" stroke="#505050" stroke-width="1" fill="none"/>
<text x="822" y="15" font-family="Liberation Sans, sans-serif" font-size="7" font-weight="bold" fill="#505050">E</text>
<path d="M840 1.5 H853 M840 5.5 H853 M840 9.5 H853" stroke="#606060" stroke-dasharray="1,1"/>
<text x="848" y="16" font-family="Liberation Sans, sans-serif" font-size="7" font-weight="bold" fill="#505050">F</text>
<text x="870.5" y="13" font-family="Liberation Sans, sans-serif" font-size="13" fill="#505050">A</text>
<rect x="897.5" y="0.5" width="12" height="13" fill="none" stroke="#606060" stroke-dasharray="1,1"/>
<text x="899" y="12" font-family="Liberation Sans, sans-serif" font-size="12" font-weight="bold" fill="#505050">T</text>
<path d="M924 5 L927 1.5 L930 5 Z M931 9 L934 12.5 L937 9 Z" fill="#404040"/>
<path d="M926 6 L929 10 L935 2" stroke="#404040" stroke-width="1.2" fill="none"/>
<polygon points="944,6 950,6 947,9" fill="#000"/>
<rect x="956" y="0" width="1" height="17" fill="#a0a0a0" shape-rendering="crispEdges"/>
<rect x="957" y="0" width="1" height="17" fill="#fcfcfc" shape-rendering="crispEdges"/>
<rect x="960" y="1" width="3" height="1" fill="#a8a8a8" shape-rendering="crispEdges"/>
<rect x="960" y="3" width="3" height="1" fill="#a8a8a8" shape-rendering="crispEdges"/>
<rect x="960" y="5" width="3" height="1" fill="#a8a8a8" shape-rendering="crispEdges"/>
<rect x="960" y="7" width="3" height="1" fill="#a8a8a8" shape-rendering="crispEdges"/>
<rect x="960" y="9" width="3" height="1" fill="#a8a8a8" shape-rendering="crispEdges"/>
<rect x="960" y="11" width="3" height="1" fill="#a8a8a8" shape-rendering="crispEdges"/>
<rect x="960" y="13" width="3" height="1" fill="#a8a8a8" shape-rendering="crispEdges"/>
<rect x="960" y="15" width="3" height="1" fill="#a8a8a8" shape-rendering="crispEdges"/>
<text x="972" y="12" font-family="Liberation Sans, sans-serif" font-size="11" fill="#3c3c3c" textLength="12" lengthAdjust="spacingAndGlyphs">M1</text>
<text x="999" y="12" font-family="Liberation Sans, sans-serif" font-size="11" fill="#3c3c3c" textLength="13" lengthAdjust="spacingAndGlyphs">M5</text>
<text x="1025" y="12" font-family="Liberation Sans, sans-serif" font-size="11" fill="#3c3c3c" textLength="18" lengthAdjust="spacingAndGlyphs">M15</text>
<text x="1053" y="12" font-family="Liberation Sans, sans-serif" font-size="11" fill="#3c3c3c" textLength="18" lengthAdjust="spacingAndGlyphs">M30</text>
<text x="1084" y="12" font-family="Liberation Sans, sans-serif" font-size="11" fill="#3c3c3c" textLength="12" lengthAdjust="spacingAndGlyphs">H1</text>
<text x="1111" y="12" font-family="Liberation Sans, sans-serif" font-size="11" fill="#3c3c3c" textLength="13" lengthAdjust="spacingAndGlyphs">H4</text>
<rect x="1135" y="0" width="26" height="17" fill="#f6f6f6" shape-rendering="crispEdges"/>
<text x="1141" y="12" font-family="Liberation Sans, sans-serif" font-size="11" fill="#3c3c3c" textLength="11" lengthAdjust="spacingAndGlyphs">D1</text>
<text x="1168" y="12" font-family="Liberation Sans, sans-serif" font-size="11" fill="#3c3c3c" textLength="14" lengthAdjust="spacingAndGlyphs">W1</text>
<text x="1194" y="12" font-family="Liberation Sans, sans-serif" font-size="11" fill="#3c3c3c" textLength="15" lengthAdjust="spacingAndGlyphs">MN</text>
<rect x="1134" y="0" width="1" height="17" fill="#a0a0a0" shape-rendering="crispEdges"/>
<rect x="1135" y="0" width="1" height="17" fill="#fcfcfc" shape-rendering="crispEdges"/>
<rect x="1217" y="0" width="1" height="17" fill="#a0a0a0" shape-rendering="crispEdges"/>
<rect x="1218" y="0" width="1" height="17" fill="#fcfcfc" shape-rendering="crispEdges"/>
<circle cx="1687.5" cy="4" r="3.8" fill="none" stroke="#2a6ad8" stroke-width="1.5"/>
<path d="M1685 6.5 L1680.5 11.5" stroke="#2a6ad8" stroke-width="2.2"/>
<ellipse cx="1720" cy="4.5" rx="6.5" ry="5" fill="#f4f4f6" stroke="#909090"/>
<path d="M1722 9 L1723 11 L1720 9.3" fill="#909090" stroke="#909090"/>
<ellipse cx="1711" cy="7.5" rx="6" ry="4.5" fill="#f4f4f6" stroke="#909090"/>
<path d="M1709 11.5 L1708.5 14 L1711.5 12" fill="#909090" stroke="#909090"/>
<polygon points="1459,24 1468,24 1463.5,29" fill="#c0c0c0"/>
</svg></body></html>
